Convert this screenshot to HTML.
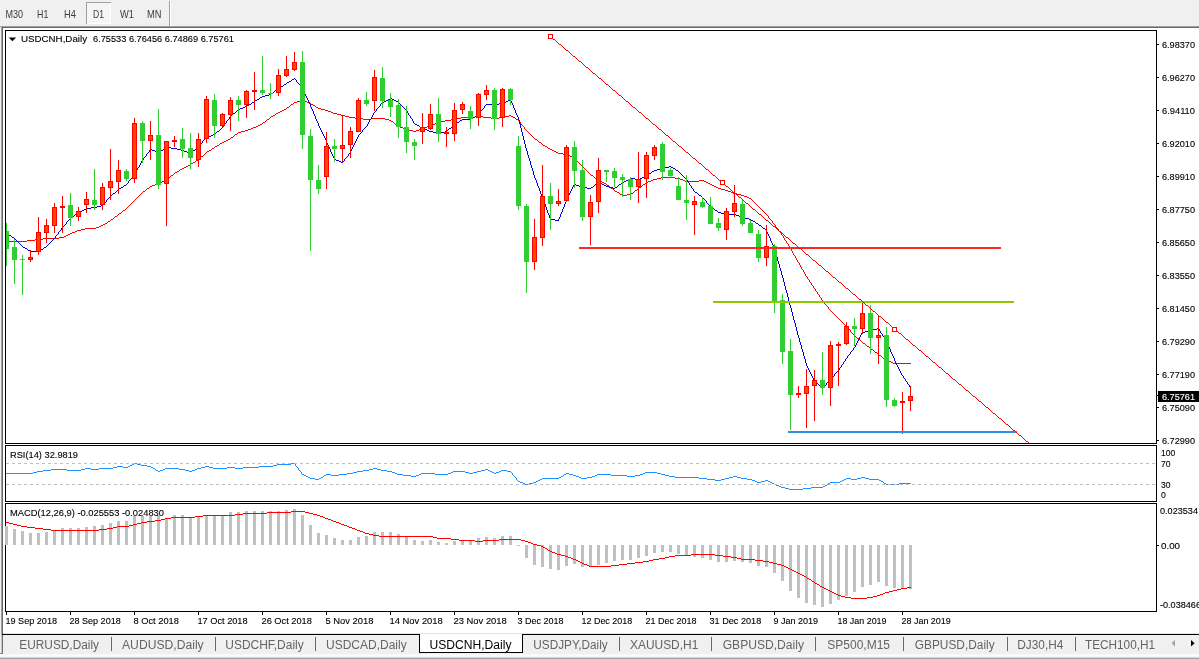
<!DOCTYPE html>
<html lang="en"><head><meta charset="utf-8"><title>USDCNH,Daily</title>
<style>html,body{margin:0;padding:0;background:#f0f0f0;overflow:hidden}svg{display:block}text{font-family:"Liberation Sans",sans-serif;white-space:pre}</style>
</head><body>
<svg width="1199" height="660" viewBox="0 0 1199 660">
<g shape-rendering="crispEdges">
<rect x="0" y="0" width="1199" height="660" fill="#f0f0f0"/>
<rect x="0" y="26" width="1199" height="1" fill="#a0a0a0"/>
<rect x="2" y="27" width="1197" height="1" fill="#696969"/>
<rect x="3" y="28" width="1196" height="606" fill="#ffffff"/>
<rect x="2" y="27" width="1" height="626" fill="#696969"/>
<rect x="1" y="27" width="1" height="627" fill="#a0a0a0"/>
<rect x="86" y="2" width="25" height="22" fill="#f6f6f6"/>
<rect x="86" y="2" width="25" height="1" fill="#a0a0a0"/>
<rect x="86" y="2" width="1" height="22" fill="#a0a0a0"/>
<rect x="87" y="23" width="24" height="1" fill="#ffffff"/>
<rect x="110" y="3" width="1" height="21" fill="#ffffff"/>
<rect x="169" y="1" width="1" height="25" fill="#a0a0a0"/>
<rect x="170" y="1" width="1" height="25" fill="#ffffff"/>
<rect x="5" y="30" width="1152" height="1" fill="#000"/>
<rect x="5" y="443" width="1152" height="1" fill="#000"/>
<rect x="5" y="30" width="1" height="414" fill="#000"/>
<rect x="1156" y="30" width="1" height="414" fill="#000"/>
<rect x="5" y="445" width="1152" height="1" fill="#000"/>
<rect x="5" y="501" width="1152" height="1" fill="#000"/>
<rect x="5" y="445" width="1" height="57" fill="#000"/>
<rect x="1156" y="445" width="1" height="57" fill="#000"/>
<rect x="5" y="503" width="1152" height="1" fill="#000"/>
<rect x="5" y="611" width="1152" height="1" fill="#000"/>
<rect x="5" y="503" width="1" height="109" fill="#000"/>
<rect x="1156" y="503" width="1" height="109" fill="#000"/>
</g>
<g shape-rendering="crispEdges">
<clipPath id="cm"><rect x="6" y="31" width="1150" height="412"/></clipPath>
<g clip-path="url(#cm)">
<path d="M301 100h3v1h-3zM297 101h4v1h-4zM304 101h3v1h-3zM294 102h3v1h-3zM307 102h2v1h-2zM293 103h1v1h-1zM309 103h2v1h-2zM291 104h2v1h-2zM311 104h2v1h-2zM290 105h1v1h-1zM313 105h2v1h-2zM289 106h1v1h-1zM315 106h1v1h-1zM287 107h2v1h-2zM316 107h2v1h-2zM286 108h1v1h-1zM318 108h3v1h-3zM284 109h2v1h-2zM321 109h4v1h-4zM282 110h2v1h-2zM325 110h3v1h-3zM280 111h2v1h-2zM328 111h3v1h-3zM278 112h2v1h-2zM331 112h2v1h-2zM276 113h2v1h-2zM333 113h4v1h-4zM275 114h1v1h-1zM337 114h4v1h-4zM273 115h2v1h-2zM341 115h4v1h-4zM509 115h2v1h-2zM271 116h2v1h-2zM345 116h4v1h-4zM475 116h8v1h-8zM505 116h4v1h-4zM511 116h2v1h-2zM270 117h1v1h-1zM349 117h6v1h-6zM461 117h14v1h-14zM483 117h8v1h-8zM499 117h6v1h-6zM513 117h2v1h-2zM269 118h1v1h-1zM355 118h8v1h-8zM371 118h14v1h-14zM457 118h4v1h-4zM491 118h8v1h-8zM515 118h1v1h-1zM267 119h2v1h-2zM363 119h8v1h-8zM385 119h4v1h-4zM451 119h6v1h-6zM516 119h2v1h-2zM266 120h1v1h-1zM389 120h2v1h-2zM445 120h6v1h-6zM518 120h1v1h-1zM265 121h1v1h-1zM391 121h2v1h-2zM441 121h4v1h-4zM519 121h1v1h-1zM263 122h2v1h-2zM393 122h1v1h-1zM437 122h4v1h-4zM520 122h1v2h-1zM262 123h1v1h-1zM394 123h1v1h-1zM435 123h2v1h-2zM260 124h2v1h-2zM395 124h2v1h-2zM432 124h3v1h-3zM521 124h1v1h-1zM258 125h2v1h-2zM397 125h1v1h-1zM429 125h3v1h-3zM522 125h1v1h-1zM256 126h2v1h-2zM398 126h2v1h-2zM427 126h2v1h-2zM523 126h1v1h-1zM253 127h3v1h-3zM400 127h3v1h-3zM424 127h3v1h-3zM524 127h1v2h-1zM251 128h2v1h-2zM403 128h2v1h-2zM421 128h3v1h-3zM248 129h3v1h-3zM405 129h4v1h-4zM419 129h2v1h-2zM525 129h1v1h-1zM245 130h3v1h-3zM409 130h4v1h-4zM416 130h3v1h-3zM526 130h1v1h-1zM241 131h4v1h-4zM413 131h3v1h-3zM527 131h1v1h-1zM238 132h3v1h-3zM528 132h1v1h-1zM237 133h1v1h-1zM529 133h1v1h-1zM235 134h2v1h-2zM530 134h1v1h-1zM234 135h1v1h-1zM531 135h1v1h-1zM233 136h1v1h-1zM532 136h1v1h-1zM231 137h2v1h-2zM533 137h1v1h-1zM230 138h1v1h-1zM534 138h1v1h-1zM228 139h2v1h-2zM535 139h2v1h-2zM226 140h2v1h-2zM537 140h1v1h-1zM224 141h2v1h-2zM538 141h1v1h-1zM222 142h2v1h-2zM539 142h2v1h-2zM220 143h2v1h-2zM541 143h1v1h-1zM219 144h1v1h-1zM542 144h1v1h-1zM217 145h2v1h-2zM543 145h2v1h-2zM215 146h2v1h-2zM545 146h2v1h-2zM214 147h1v1h-1zM547 147h1v1h-1zM212 148h2v1h-2zM548 148h2v1h-2zM211 149h1v1h-1zM550 149h2v1h-2zM209 150h2v1h-2zM552 150h2v1h-2zM207 151h2v1h-2zM554 151h2v1h-2zM206 152h1v1h-1zM556 152h2v1h-2zM205 153h1v1h-1zM558 153h5v1h-5zM204 154h1v1h-1zM563 154h5v1h-5zM203 155h1v1h-1zM568 155h2v1h-2zM201 156h2v1h-2zM570 156h2v1h-2zM200 157h1v1h-1zM572 157h2v1h-2zM199 158h1v1h-1zM574 158h1v1h-1zM198 159h1v1h-1zM575 159h1v1h-1zM196 160h2v1h-2zM576 160h1v1h-1zM195 161h1v1h-1zM577 161h1v1h-1zM193 162h2v1h-2zM578 162h1v1h-1zM191 163h2v1h-2zM579 163h1v1h-1zM190 164h1v1h-1zM580 164h1v1h-1zM188 165h2v1h-2zM581 165h1v1h-1zM186 166h2v1h-2zM582 166h1v1h-1zM184 167h2v1h-2zM583 167h1v1h-1zM182 168h2v1h-2zM584 168h1v1h-1zM180 169h2v1h-2zM585 169h1v1h-1zM179 170h1v1h-1zM586 170h1v1h-1zM177 171h2v1h-2zM587 171h1v1h-1zM175 172h2v1h-2zM588 172h1v1h-1zM174 173h1v1h-1zM589 173h1v1h-1zM173 174h1v1h-1zM590 174h1v1h-1zM171 175h2v1h-2zM591 175h2v1h-2zM170 176h1v1h-1zM593 176h1v1h-1zM169 177h1v1h-1zM594 177h1v1h-1zM661 177h14v1h-14zM167 178h2v1h-2zM595 178h2v1h-2zM657 178h4v1h-4zM675 178h5v1h-5zM166 179h1v1h-1zM597 179h1v1h-1zM653 179h4v1h-4zM680 179h3v1h-3zM164 180h2v1h-2zM598 180h2v1h-2zM651 180h2v1h-2zM683 180h2v1h-2zM699 180h5v1h-5zM162 181h2v1h-2zM600 181h2v1h-2zM648 181h3v1h-3zM685 181h14v1h-14zM704 181h2v1h-2zM160 182h2v1h-2zM602 182h2v1h-2zM646 182h2v1h-2zM706 182h2v1h-2zM157 183h3v1h-3zM604 183h2v1h-2zM645 183h1v1h-1zM708 183h2v1h-2zM155 184h2v1h-2zM606 184h1v1h-1zM643 184h2v1h-2zM710 184h2v1h-2zM152 185h3v1h-3zM607 185h2v1h-2zM642 185h1v1h-1zM712 185h2v1h-2zM150 186h2v1h-2zM609 186h1v1h-1zM641 186h1v1h-1zM714 186h2v1h-2zM149 187h1v1h-1zM610 187h1v1h-1zM639 187h2v1h-2zM716 187h2v1h-2zM147 188h2v1h-2zM611 188h2v1h-2zM638 188h1v1h-1zM718 188h3v1h-3zM146 189h1v1h-1zM613 189h1v1h-1zM637 189h1v1h-1zM721 189h4v1h-4zM145 190h1v1h-1zM614 190h1v1h-1zM635 190h2v1h-2zM725 190h3v1h-3zM143 191h2v1h-2zM615 191h2v1h-2zM634 191h1v1h-1zM728 191h3v1h-3zM142 192h1v1h-1zM617 192h2v1h-2zM633 192h1v1h-1zM731 192h2v1h-2zM141 193h1v1h-1zM619 193h1v1h-1zM631 193h2v1h-2zM733 193h4v1h-4zM140 194h1v1h-1zM620 194h2v1h-2zM627 194h4v1h-4zM737 194h4v1h-4zM139 195h1v1h-1zM622 195h5v1h-5zM741 195h3v1h-3zM138 196h1v1h-1zM744 196h3v1h-3zM137 197h1v1h-1zM747 197h2v1h-2zM136 198h1v1h-1zM749 198h2v1h-2zM135 199h1v1h-1zM751 199h1v1h-1zM134 200h1v1h-1zM752 200h1v1h-1zM133 201h1v1h-1zM753 201h1v1h-1zM132 202h1v1h-1zM754 202h1v1h-1zM131 203h1v1h-1zM755 203h1v1h-1zM130 204h1v1h-1zM756 204h1v1h-1zM129 205h1v1h-1zM757 205h1v1h-1zM128 206h1v1h-1zM758 206h1v1h-1zM127 207h1v1h-1zM759 207h1v1h-1zM126 208h1v1h-1zM760 208h1v1h-1zM125 209h1v1h-1zM761 209h1v1h-1zM123 210h2v1h-2zM762 210h1v1h-1zM122 211h1v1h-1zM763 211h1v1h-1zM121 212h1v1h-1zM764 212h1v1h-1zM119 213h2v1h-2zM765 213h1v1h-1zM118 214h1v1h-1zM766 214h1v1h-1zM117 215h1v1h-1zM767 215h1v1h-1zM115 216h2v1h-2zM768 216h1v2h-1zM114 217h1v1h-1zM113 218h1v1h-1zM769 218h1v1h-1zM111 219h2v1h-2zM770 219h1v1h-1zM110 220h1v1h-1zM771 220h1v1h-1zM108 221h2v1h-2zM772 221h1v2h-1zM107 222h1v1h-1zM105 223h2v1h-2zM773 223h1v1h-1zM103 224h2v1h-2zM774 224h1v1h-1zM101 225h2v1h-2zM775 225h1v2h-1zM99 226h2v1h-2zM96 227h3v1h-3zM776 227h1v1h-1zM85 228h11v1h-11zM777 228h1v1h-1zM81 229h4v1h-4zM778 229h1v2h-1zM77 230h4v1h-4zM75 231h2v1h-2zM779 231h1v1h-1zM72 232h3v1h-3zM780 232h1v1h-1zM70 233h2v1h-2zM781 233h1v2h-1zM68 234h2v1h-2zM66 235h2v1h-2zM782 235h1v1h-1zM64 236h2v1h-2zM783 236h1v2h-1zM59 237h5v1h-5zM43 238h16v1h-16zM784 238h1v2h-1zM35 239h8v1h-8zM27 240h8v1h-8zM785 240h1v1h-1zM6 241h21v1h-21zM786 241h1v2h-1zM787 243h1v1h-1zM788 244h1v2h-1zM789 246h1v2h-1zM790 248h1v1h-1zM791 249h1v2h-1zM792 251h1v2h-1zM793 253h1v2h-1zM794 255h1v1h-1zM795 256h1v2h-1zM796 258h1v2h-1zM797 260h1v2h-1zM798 262h1v1h-1zM799 263h1v2h-1zM800 265h1v2h-1zM801 267h1v2h-1zM802 269h1v1h-1zM803 270h1v2h-1zM804 272h1v2h-1zM805 274h1v2h-1zM806 276h1v1h-1zM807 277h1v2h-1zM808 279h1v1h-1zM809 280h1v2h-1zM810 282h1v1h-1zM811 283h1v2h-1zM812 285h1v1h-1zM813 286h1v2h-1zM814 288h1v1h-1zM815 289h1v2h-1zM816 291h1v1h-1zM817 292h1v2h-1zM818 294h1v1h-1zM819 295h1v2h-1zM820 297h1v1h-1zM821 298h1v2h-1zM822 300h1v1h-1zM823 301h1v1h-1zM824 302h1v2h-1zM825 304h1v1h-1zM826 305h1v1h-1zM827 306h1v1h-1zM828 307h1v2h-1zM829 309h1v1h-1zM830 310h1v1h-1zM831 311h1v1h-1zM832 312h1v1h-1zM833 313h1v1h-1zM834 314h1v1h-1zM835 315h1v1h-1zM836 316h1v1h-1zM837 317h1v1h-1zM838 318h1v1h-1zM839 319h1v1h-1zM840 320h1v1h-1zM841 321h1v1h-1zM842 322h1v1h-1zM843 323h1v1h-1zM844 324h1v1h-1zM845 325h1v1h-1zM846 326h1v1h-1zM847 327h1v1h-1zM848 328h1v1h-1zM849 329h1v1h-1zM850 330h1v2h-1zM851 332h1v1h-1zM852 333h1v1h-1zM853 334h1v1h-1zM854 335h1v1h-1zM855 336h1v1h-1zM856 337h1v1h-1zM857 338h2v1h-2zM859 339h1v1h-1zM860 340h1v1h-1zM861 341h1v1h-1zM862 342h1v1h-1zM863 343h2v1h-2zM865 344h1v1h-1zM866 345h1v1h-1zM867 346h2v1h-2zM869 347h1v1h-1zM870 348h1v1h-1zM871 349h2v1h-2zM873 350h1v1h-1zM874 351h1v1h-1zM875 352h2v1h-2zM877 353h1v1h-1zM878 354h1v1h-1zM879 355h2v1h-2zM881 356h1v1h-1zM882 357h1v1h-1zM883 358h2v1h-2zM885 359h1v1h-1zM886 360h2v1h-2zM888 361h3v1h-3zM891 362h2v1h-2zM893 363h18v1h-18z" fill="#ff0000"/>
<path d="M294 78h1v1h-1zM292 79h2v1h-2zM295 79h1v1h-1zM291 80h1v1h-1zM296 80h1v2h-1zM289 81h2v1h-2zM287 82h2v1h-2zM297 82h1v1h-1zM286 83h1v1h-1zM298 83h1v1h-1zM284 84h2v1h-2zM299 84h1v1h-1zM283 85h1v1h-1zM300 85h1v2h-1zM281 86h2v1h-2zM279 87h2v1h-2zM301 87h1v1h-1zM278 88h1v1h-1zM302 88h1v2h-1zM277 89h1v1h-1zM275 90h2v1h-2zM303 90h1v2h-1zM274 91h1v1h-1zM273 92h1v1h-1zM304 92h1v2h-1zM271 93h2v1h-2zM269 94h2v1h-2zM305 94h1v2h-1zM265 95h4v1h-4zM262 96h3v1h-3zM306 96h1v2h-1zM260 97h2v1h-2zM259 98h1v1h-1zM390 98h2v1h-2zM307 98h1v2h-1zM257 99h2v1h-2zM388 99h2v1h-2zM392 99h2v1h-2zM510 99h1v2h-1zM255 100h2v1h-2zM386 100h2v1h-2zM394 100h2v1h-2zM508 100h2v1h-2zM308 100h1v2h-1zM254 101h1v1h-1zM384 101h2v1h-2zM396 101h2v1h-2zM506 101h2v1h-2zM511 101h1v2h-1zM252 102h2v1h-2zM382 102h2v1h-2zM398 102h1v1h-1zM504 102h2v1h-2zM309 102h1v2h-1zM251 103h1v1h-1zM381 103h1v1h-1zM399 103h1v1h-1zM499 103h5v1h-5zM512 103h1v2h-1zM249 104h2v1h-2zM400 104h1v1h-1zM486 104h13v1h-13zM380 104h1v2h-1zM310 104h1v3h-1zM247 105h2v1h-2zM401 105h1v1h-1zM485 105h1v1h-1zM513 105h1v3h-1zM245 106h2v1h-2zM379 106h1v1h-1zM402 106h1v1h-1zM484 106h1v2h-1zM243 107h2v1h-2zM378 107h1v1h-1zM403 107h1v1h-1zM311 107h1v2h-1zM240 108h3v1h-3zM377 108h1v1h-1zM404 108h1v1h-1zM483 108h1v1h-1zM514 108h1v2h-1zM238 109h2v1h-2zM405 109h1v1h-1zM482 109h1v1h-1zM312 109h1v2h-1zM376 109h1v2h-1zM237 110h1v1h-1zM406 110h1v1h-1zM481 110h1v1h-1zM515 110h1v3h-1zM236 111h1v1h-1zM375 111h1v1h-1zM407 111h1v2h-1zM480 111h1v2h-1zM313 111h1v3h-1zM235 112h1v1h-1zM374 112h1v1h-1zM233 113h2v1h-2zM479 113h1v1h-1zM373 113h1v2h-1zM408 113h1v2h-1zM516 113h1v2h-1zM232 114h1v1h-1zM478 114h1v1h-1zM314 114h1v2h-1zM231 115h1v1h-1zM409 115h1v1h-1zM476 115h2v1h-2zM372 115h1v2h-1zM517 115h1v2h-1zM230 116h1v1h-1zM475 116h1v1h-1zM410 116h1v2h-1zM315 116h1v3h-1zM473 117h2v1h-2zM229 117h1v2h-1zM371 117h1v2h-1zM518 117h1v3h-1zM411 118h1v1h-1zM471 118h2v1h-2zM228 119h1v1h-1zM370 119h1v1h-1zM462 119h9v1h-9zM316 119h1v2h-1zM412 119h1v2h-1zM227 120h1v1h-1zM460 120h2v1h-2zM369 120h1v2h-1zM519 120h1v4h-1zM459 121h1v1h-1zM226 121h1v2h-1zM317 121h1v2h-1zM413 121h1v2h-1zM457 122h2v1h-2zM368 122h1v2h-1zM225 123h1v1h-1zM414 123h1v1h-1zM455 123h2v1h-2zM318 123h1v3h-1zM224 124h1v1h-1zM415 124h2v1h-2zM454 124h1v1h-1zM367 124h1v2h-1zM520 124h1v4h-1zM417 125h2v1h-2zM453 125h1v1h-1zM223 125h1v2h-1zM366 126h1v1h-1zM419 126h1v1h-1zM452 126h1v1h-1zM319 126h1v2h-1zM222 127h1v1h-1zM365 127h1v1h-1zM420 127h2v1h-2zM451 127h1v1h-1zM221 128h1v1h-1zM364 128h1v1h-1zM422 128h2v1h-2zM449 128h2v1h-2zM320 128h1v2h-1zM521 128h1v4h-1zM220 129h1v1h-1zM363 129h1v1h-1zM424 129h3v1h-3zM448 129h1v1h-1zM219 130h1v1h-1zM427 130h2v1h-2zM447 130h1v1h-1zM321 130h1v2h-1zM362 130h1v2h-1zM217 131h2v1h-2zM429 131h4v1h-4zM445 131h2v1h-2zM216 132h1v1h-1zM361 132h1v1h-1zM433 132h4v1h-4zM441 132h4v1h-4zM322 132h1v2h-1zM522 132h1v4h-1zM215 133h1v1h-1zM360 133h1v1h-1zM437 133h4v1h-4zM213 134h2v1h-2zM359 134h1v1h-1zM323 134h1v2h-1zM211 135h2v1h-2zM358 135h1v2h-1zM208 136h3v1h-3zM324 136h1v2h-1zM523 136h1v4h-1zM206 137h2v1h-2zM357 137h1v2h-1zM205 138h1v1h-1zM325 138h1v2h-1zM204 139h1v1h-1zM356 139h1v2h-1zM203 140h1v1h-1zM326 140h1v3h-1zM524 140h1v4h-1zM202 141h1v2h-1zM355 141h1v2h-1zM201 143h1v1h-1zM327 143h1v2h-1zM354 143h1v2h-1zM200 144h1v1h-1zM525 144h1v4h-1zM199 145h1v1h-1zM328 145h1v2h-1zM353 145h1v2h-1zM198 146h1v1h-1zM166 147h5v1h-5zM197 147h1v1h-1zM329 147h1v2h-1zM352 147h1v2h-1zM164 148h2v1h-2zM171 148h6v1h-6zM196 148h1v1h-1zM526 148h1v3h-1zM150 149h2v1h-2zM163 149h1v1h-1zM177 149h4v1h-4zM195 149h1v1h-1zM351 149h1v2h-1zM330 149h1v3h-1zM152 150h3v1h-3zM161 150h2v1h-2zM181 150h3v1h-3zM193 150h2v1h-2zM149 150h1v2h-1zM155 151h2v1h-2zM159 151h2v1h-2zM184 151h3v1h-3zM192 151h1v1h-1zM350 151h1v2h-1zM527 151h1v4h-1zM148 152h1v1h-1zM157 152h2v1h-2zM187 152h2v1h-2zM191 152h1v1h-1zM331 152h1v2h-1zM147 153h1v1h-1zM189 153h2v1h-2zM349 153h1v1h-1zM146 154h1v2h-1zM332 154h1v2h-1zM348 154h1v2h-1zM528 155h1v3h-1zM145 156h1v1h-1zM347 156h1v1h-1zM333 156h1v2h-1zM144 157h1v1h-1zM346 157h1v1h-1zM345 158h1v1h-1zM143 158h1v2h-1zM334 158h1v2h-1zM529 158h1v3h-1zM335 159h1v1h-1zM344 159h1v2h-1zM142 160h1v1h-1zM336 160h3v1h-3zM339 161h2v1h-2zM343 161h1v1h-1zM141 161h1v2h-1zM530 161h1v4h-1zM341 162h2v1h-2zM140 163h1v2h-1zM139 165h1v2h-1zM531 165h1v3h-1zM669 166h2v1h-2zM138 167h1v1h-1zM665 167h4v1h-4zM671 167h2v1h-2zM661 168h4v1h-4zM673 168h2v1h-2zM137 168h1v2h-1zM532 168h1v3h-1zM657 169h4v1h-4zM675 169h1v1h-1zM654 170h3v1h-3zM676 170h2v1h-2zM136 170h1v2h-1zM652 171h2v1h-2zM678 171h1v1h-1zM533 171h1v4h-1zM651 172h1v1h-1zM679 172h1v1h-1zM135 172h1v2h-1zM649 173h2v1h-2zM680 173h1v1h-1zM134 174h1v1h-1zM647 174h2v1h-2zM681 174h1v1h-1zM133 175h1v1h-1zM646 175h1v1h-1zM682 175h1v1h-1zM534 175h1v3h-1zM644 176h2v1h-2zM683 176h1v1h-1zM132 176h1v2h-1zM642 177h2v1h-2zM684 177h1v1h-1zM131 178h1v1h-1zM630 178h5v1h-5zM640 178h2v1h-2zM685 178h1v1h-1zM535 178h1v2h-1zM130 179h1v1h-1zM628 179h2v1h-2zM635 179h5v1h-5zM686 179h1v1h-1zM129 180h1v1h-1zM626 180h2v1h-2zM687 180h1v2h-1zM536 180h1v3h-1zM624 181h2v1h-2zM128 181h1v2h-1zM598 182h2v1h-2zM622 182h2v1h-2zM688 182h1v1h-1zM127 183h1v1h-1zM597 183h1v1h-1zM600 183h2v1h-2zM621 183h1v1h-1zM689 183h1v2h-1zM537 183h1v3h-1zM126 184h1v1h-1zM574 184h2v1h-2zM595 184h2v1h-2zM602 184h2v1h-2zM619 184h2v1h-2zM124 185h2v1h-2zM576 185h3v1h-3zM594 185h1v1h-1zM604 185h2v1h-2zM618 185h1v1h-1zM690 185h1v1h-1zM573 185h1v2h-1zM123 186h1v1h-1zM579 186h2v1h-2zM593 186h1v1h-1zM606 186h3v1h-3zM617 186h1v1h-1zM538 186h1v2h-1zM691 186h1v2h-1zM121 187h2v1h-2zM581 187h6v1h-6zM591 187h2v1h-2zM609 187h4v1h-4zM615 187h2v1h-2zM572 187h1v2h-1zM119 188h2v1h-2zM587 188h4v1h-4zM613 188h2v1h-2zM692 188h1v1h-1zM539 188h1v3h-1zM118 189h1v1h-1zM571 189h1v2h-1zM693 189h1v2h-1zM117 190h1v1h-1zM116 191h1v1h-1zM694 191h1v1h-1zM570 191h1v2h-1zM540 191h1v3h-1zM115 192h1v1h-1zM695 192h2v1h-2zM113 193h2v1h-2zM697 193h1v1h-1zM569 193h1v2h-1zM112 194h1v1h-1zM698 194h1v1h-1zM541 194h1v2h-1zM111 195h1v1h-1zM699 195h2v1h-2zM568 195h1v2h-1zM110 196h1v1h-1zM701 196h1v1h-1zM542 196h1v3h-1zM109 197h1v1h-1zM702 197h1v1h-1zM567 197h1v2h-1zM108 198h1v1h-1zM703 198h1v1h-1zM107 199h1v1h-1zM704 199h1v1h-1zM543 199h1v3h-1zM566 199h1v3h-1zM705 200h1v1h-1zM106 200h1v2h-1zM706 201h1v2h-1zM105 202h1v1h-1zM544 202h1v2h-1zM565 202h1v2h-1zM104 203h1v1h-1zM707 203h1v1h-1zM103 204h1v1h-1zM708 204h1v1h-1zM545 204h1v3h-1zM564 204h1v3h-1zM101 205h2v1h-2zM709 205h1v1h-1zM97 206h4v1h-4zM710 206h1v1h-1zM91 207h6v1h-6zM711 207h2v1h-2zM563 207h1v2h-1zM546 207h1v3h-1zM86 208h5v1h-5zM713 208h1v1h-1zM84 209h2v1h-2zM714 209h1v1h-1zM562 209h1v3h-1zM82 210h2v1h-2zM715 210h2v1h-2zM547 210h1v3h-1zM80 211h2v1h-2zM717 211h1v1h-1zM78 212h2v1h-2zM718 212h3v1h-3zM561 212h1v2h-1zM77 213h1v1h-1zM721 213h4v1h-4zM548 213h1v2h-1zM75 214h2v1h-2zM725 214h11v1h-11zM560 214h1v3h-1zM74 215h1v1h-1zM736 215h3v1h-3zM549 215h1v3h-1zM73 216h1v1h-1zM739 216h2v1h-2zM71 217h2v1h-2zM741 217h4v1h-4zM559 217h1v2h-1zM70 218h1v1h-1zM745 218h4v1h-4zM550 218h1v2h-1zM69 219h1v1h-1zM551 219h4v1h-4zM749 219h2v1h-2zM558 219h1v2h-1zM68 220h1v1h-1zM555 220h3v1h-3zM751 220h2v1h-2zM67 221h1v1h-1zM753 221h2v1h-2zM755 222h1v1h-1zM66 222h1v2h-1zM756 223h2v1h-2zM65 224h1v1h-1zM758 224h1v1h-1zM64 225h1v1h-1zM759 225h2v1h-2zM63 226h1v1h-1zM761 226h1v1h-1zM62 227h1v1h-1zM762 227h1v1h-1zM763 228h2v1h-2zM61 228h1v2h-1zM765 229h1v1h-1zM60 230h1v1h-1zM766 230h1v2h-1zM59 231h1v1h-1zM58 232h1v2h-1zM767 232h1v2h-1zM6 233h1v1h-1zM7 234h2v1h-2zM57 234h1v1h-1zM768 234h1v2h-1zM9 235h2v1h-2zM56 235h1v1h-1zM11 236h1v1h-1zM55 236h1v2h-1zM769 236h1v2h-1zM12 237h2v1h-2zM14 238h1v1h-1zM54 238h1v1h-1zM770 238h1v3h-1zM15 239h1v1h-1zM53 239h1v1h-1zM16 240h1v1h-1zM52 240h1v1h-1zM17 241h1v1h-1zM51 241h1v1h-1zM771 241h1v2h-1zM18 242h1v1h-1zM50 242h1v1h-1zM19 243h1v1h-1zM49 243h1v1h-1zM772 243h1v2h-1zM20 244h1v1h-1zM48 244h1v1h-1zM21 245h1v1h-1zM47 245h1v1h-1zM773 245h1v2h-1zM22 246h1v1h-1zM46 246h1v1h-1zM23 247h2v1h-2zM44 247h2v1h-2zM774 247h1v3h-1zM25 248h2v1h-2zM43 248h1v1h-1zM27 249h1v1h-1zM41 249h2v1h-2zM28 250h2v1h-2zM39 250h2v1h-2zM775 250h1v4h-1zM30 251h9v1h-9zM776 254h1v3h-1zM777 257h1v4h-1zM778 261h1v3h-1zM779 264h1v4h-1zM780 268h1v3h-1zM781 271h1v4h-1zM782 275h1v3h-1zM783 278h1v4h-1zM784 282h1v4h-1zM785 286h1v4h-1zM786 290h1v3h-1zM787 293h1v4h-1zM788 297h1v4h-1zM789 301h1v4h-1zM790 305h1v3h-1zM791 308h1v4h-1zM792 312h1v4h-1zM793 316h1v4h-1zM794 320h1v3h-1zM795 323h1v4h-1zM796 327h1v4h-1zM877 328h2v1h-2zM873 329h4v1h-4zM879 329h1v2h-1zM869 330h4v1h-4zM865 331h4v1h-4zM880 331h1v2h-1zM797 331h1v4h-1zM862 332h3v1h-3zM881 333h1v1h-1zM861 333h1v2h-1zM882 334h1v2h-1zM860 335h1v2h-1zM798 335h1v3h-1zM883 336h1v1h-1zM859 337h1v2h-1zM884 337h1v2h-1zM799 338h1v4h-1zM858 339h1v2h-1zM885 339h1v2h-1zM857 341h1v2h-1zM886 341h1v2h-1zM800 342h1v3h-1zM856 343h1v2h-1zM887 343h1v2h-1zM855 345h1v2h-1zM888 345h1v2h-1zM801 345h1v4h-1zM854 347h1v1h-1zM889 347h1v2h-1zM853 348h1v2h-1zM802 349h1v3h-1zM890 349h1v3h-1zM852 350h1v1h-1zM851 351h1v1h-1zM850 352h1v2h-1zM891 352h1v2h-1zM803 352h1v4h-1zM849 354h1v1h-1zM892 354h1v2h-1zM848 355h1v1h-1zM847 356h1v2h-1zM893 356h1v2h-1zM804 356h1v3h-1zM846 358h1v1h-1zM894 358h1v3h-1zM845 359h1v2h-1zM805 359h1v4h-1zM844 361h1v1h-1zM895 361h1v2h-1zM843 362h1v2h-1zM896 363h1v2h-1zM806 363h1v3h-1zM842 364h1v1h-1zM841 365h1v2h-1zM897 365h1v2h-1zM807 366h1v2h-1zM840 367h1v1h-1zM898 367h1v2h-1zM808 368h1v2h-1zM839 368h1v2h-1zM899 369h1v2h-1zM838 370h1v1h-1zM809 370h1v2h-1zM837 371h1v1h-1zM900 371h1v2h-1zM836 372h1v1h-1zM810 372h1v2h-1zM835 373h1v1h-1zM901 373h1v2h-1zM811 374h1v2h-1zM834 374h1v2h-1zM902 375h1v1h-1zM833 376h1v1h-1zM812 376h1v2h-1zM903 376h1v2h-1zM832 377h1v1h-1zM831 378h1v1h-1zM904 378h1v1h-1zM813 378h1v2h-1zM830 379h1v1h-1zM905 379h1v2h-1zM814 380h1v1h-1zM829 380h1v1h-1zM815 381h1v1h-1zM828 381h1v1h-1zM906 381h1v1h-1zM816 382h1v1h-1zM827 382h1v1h-1zM907 382h1v2h-1zM817 383h1v1h-1zM826 383h1v2h-1zM818 384h1v1h-1zM908 384h1v1h-1zM819 385h1v1h-1zM825 385h1v1h-1zM909 385h1v2h-1zM820 386h1v1h-1zM824 386h1v1h-1zM821 387h1v1h-1zM823 387h1v1h-1zM910 387h1v1h-1zM822 388h1v1h-1z" fill="#0000dd"/>
<rect x="6" y="223" width="1" height="43" fill="#32cd32"/>
<rect x="4" y="231" width="5" height="18" fill="#32cd32"/>
<rect x="14" y="239" width="1" height="45" fill="#32cd32"/>
<rect x="12" y="247" width="5" height="13" fill="#32cd32"/>
<rect x="22" y="255" width="1" height="40" fill="#32cd32"/>
<rect x="20" y="259" width="5" height="1" fill="#32cd32"/>
<rect x="30" y="250" width="1" height="12" fill="#ff0000"/>
<rect x="28" y="257" width="5" height="3" fill="#ff0000"/>
<rect x="29" y="258" width="3" height="1" fill="#ff4500"/>
<rect x="38" y="217" width="1" height="38" fill="#ff0000"/>
<rect x="36" y="232" width="5" height="20" fill="#ff0000"/>
<rect x="37" y="233" width="3" height="18" fill="#ff4500"/>
<rect x="46" y="219" width="1" height="24" fill="#ff0000"/>
<rect x="44" y="225" width="5" height="8" fill="#ff0000"/>
<rect x="45" y="226" width="3" height="6" fill="#ff4500"/>
<rect x="54" y="203" width="1" height="30" fill="#ff0000"/>
<rect x="52" y="207" width="5" height="19" fill="#ff0000"/>
<rect x="53" y="208" width="3" height="17" fill="#ff4500"/>
<rect x="62" y="196" width="1" height="37" fill="#ff0000"/>
<rect x="60" y="206" width="5" height="2" fill="#ff0000"/>
<rect x="70" y="193" width="1" height="33" fill="#32cd32"/>
<rect x="68" y="205" width="5" height="13" fill="#32cd32"/>
<rect x="78" y="207" width="1" height="14" fill="#ff0000"/>
<rect x="76" y="211" width="5" height="6" fill="#ff0000"/>
<rect x="77" y="212" width="3" height="4" fill="#ff4500"/>
<rect x="86" y="192" width="1" height="21" fill="#ff0000"/>
<rect x="84" y="199" width="5" height="6" fill="#ff0000"/>
<rect x="85" y="200" width="3" height="4" fill="#ff4500"/>
<rect x="94" y="169" width="1" height="41" fill="#32cd32"/>
<rect x="92" y="200" width="5" height="5" fill="#32cd32"/>
<rect x="102" y="183" width="1" height="27" fill="#ff0000"/>
<rect x="100" y="187" width="5" height="18" fill="#ff0000"/>
<rect x="101" y="188" width="3" height="16" fill="#ff4500"/>
<rect x="110" y="149" width="1" height="51" fill="#ff0000"/>
<rect x="108" y="181" width="5" height="7" fill="#ff0000"/>
<rect x="109" y="182" width="3" height="5" fill="#ff4500"/>
<rect x="118" y="160" width="1" height="34" fill="#ff0000"/>
<rect x="116" y="170" width="5" height="12" fill="#ff0000"/>
<rect x="117" y="171" width="3" height="10" fill="#ff4500"/>
<rect x="126" y="169" width="1" height="12" fill="#32cd32"/>
<rect x="124" y="171" width="5" height="8" fill="#32cd32"/>
<rect x="134" y="118" width="1" height="65" fill="#ff0000"/>
<rect x="132" y="123" width="5" height="56" fill="#ff0000"/>
<rect x="133" y="124" width="3" height="54" fill="#ff4500"/>
<rect x="142" y="121" width="1" height="42" fill="#32cd32"/>
<rect x="140" y="123" width="5" height="18" fill="#32cd32"/>
<rect x="150" y="121" width="1" height="39" fill="#ff0000"/>
<rect x="148" y="135" width="5" height="6" fill="#ff0000"/>
<rect x="149" y="136" width="3" height="4" fill="#ff4500"/>
<rect x="158" y="109" width="1" height="80" fill="#32cd32"/>
<rect x="156" y="135" width="5" height="50" fill="#32cd32"/>
<rect x="166" y="141" width="1" height="85" fill="#ff0000"/>
<rect x="164" y="141" width="5" height="43" fill="#ff0000"/>
<rect x="165" y="142" width="3" height="41" fill="#ff4500"/>
<rect x="174" y="136" width="1" height="11" fill="#ff0000"/>
<rect x="172" y="140" width="5" height="2" fill="#ff0000"/>
<rect x="182" y="128" width="1" height="30" fill="#32cd32"/>
<rect x="180" y="139" width="5" height="10" fill="#32cd32"/>
<rect x="190" y="133" width="1" height="36" fill="#32cd32"/>
<rect x="188" y="148" width="5" height="10" fill="#32cd32"/>
<rect x="198" y="133" width="1" height="34" fill="#ff0000"/>
<rect x="196" y="139" width="5" height="21" fill="#ff0000"/>
<rect x="197" y="140" width="3" height="19" fill="#ff4500"/>
<rect x="206" y="96" width="1" height="47" fill="#ff0000"/>
<rect x="204" y="99" width="5" height="40" fill="#ff0000"/>
<rect x="205" y="100" width="3" height="38" fill="#ff4500"/>
<rect x="214" y="94" width="1" height="44" fill="#32cd32"/>
<rect x="212" y="100" width="5" height="26" fill="#32cd32"/>
<rect x="222" y="113" width="1" height="14" fill="#ff0000"/>
<rect x="220" y="114" width="5" height="12" fill="#ff0000"/>
<rect x="221" y="115" width="3" height="10" fill="#ff4500"/>
<rect x="230" y="97" width="1" height="34" fill="#ff0000"/>
<rect x="228" y="100" width="5" height="15" fill="#ff0000"/>
<rect x="229" y="101" width="3" height="13" fill="#ff4500"/>
<rect x="238" y="96" width="1" height="25" fill="#32cd32"/>
<rect x="236" y="100" width="5" height="5" fill="#32cd32"/>
<rect x="246" y="90" width="1" height="28" fill="#ff0000"/>
<rect x="244" y="91" width="5" height="14" fill="#ff0000"/>
<rect x="245" y="92" width="3" height="12" fill="#ff4500"/>
<rect x="254" y="72" width="1" height="38" fill="#ff0000"/>
<rect x="252" y="90" width="5" height="2" fill="#ff0000"/>
<rect x="262" y="56" width="1" height="39" fill="#32cd32"/>
<rect x="260" y="90" width="5" height="3" fill="#32cd32"/>
<rect x="270" y="83" width="1" height="16" fill="#32cd32"/>
<rect x="268" y="93" width="5" height="1" fill="#32cd32"/>
<rect x="278" y="69" width="1" height="27" fill="#ff0000"/>
<rect x="276" y="75" width="5" height="18" fill="#ff0000"/>
<rect x="277" y="76" width="3" height="16" fill="#ff4500"/>
<rect x="286" y="56" width="1" height="21" fill="#ff0000"/>
<rect x="284" y="69" width="5" height="7" fill="#ff0000"/>
<rect x="285" y="70" width="3" height="5" fill="#ff4500"/>
<rect x="294" y="52" width="1" height="19" fill="#ff0000"/>
<rect x="292" y="62" width="5" height="8" fill="#ff0000"/>
<rect x="293" y="63" width="3" height="6" fill="#ff4500"/>
<rect x="302" y="51" width="1" height="98" fill="#32cd32"/>
<rect x="300" y="62" width="5" height="73" fill="#32cd32"/>
<rect x="310" y="129" width="1" height="122" fill="#32cd32"/>
<rect x="308" y="136" width="5" height="44" fill="#32cd32"/>
<rect x="318" y="165" width="1" height="29" fill="#32cd32"/>
<rect x="316" y="180" width="5" height="9" fill="#32cd32"/>
<rect x="326" y="132" width="1" height="57" fill="#ff0000"/>
<rect x="324" y="146" width="5" height="31" fill="#ff0000"/>
<rect x="325" y="147" width="3" height="29" fill="#ff4500"/>
<rect x="334" y="139" width="1" height="23" fill="#32cd32"/>
<rect x="332" y="146" width="5" height="3" fill="#32cd32"/>
<rect x="342" y="115" width="1" height="47" fill="#ff0000"/>
<rect x="340" y="145" width="5" height="4" fill="#ff0000"/>
<rect x="341" y="146" width="3" height="2" fill="#ff4500"/>
<rect x="350" y="127" width="1" height="31" fill="#ff0000"/>
<rect x="348" y="131" width="5" height="14" fill="#ff0000"/>
<rect x="349" y="132" width="3" height="12" fill="#ff4500"/>
<rect x="358" y="98" width="1" height="34" fill="#ff0000"/>
<rect x="356" y="100" width="5" height="32" fill="#ff0000"/>
<rect x="357" y="101" width="3" height="30" fill="#ff4500"/>
<rect x="366" y="92" width="1" height="14" fill="#32cd32"/>
<rect x="364" y="100" width="5" height="4" fill="#32cd32"/>
<rect x="374" y="70" width="1" height="41" fill="#ff0000"/>
<rect x="372" y="77" width="5" height="24" fill="#ff0000"/>
<rect x="373" y="78" width="3" height="22" fill="#ff4500"/>
<rect x="382" y="67" width="1" height="41" fill="#32cd32"/>
<rect x="380" y="78" width="5" height="23" fill="#32cd32"/>
<rect x="390" y="93" width="1" height="24" fill="#32cd32"/>
<rect x="388" y="100" width="5" height="7" fill="#32cd32"/>
<rect x="398" y="99" width="1" height="39" fill="#32cd32"/>
<rect x="396" y="105" width="5" height="22" fill="#32cd32"/>
<rect x="406" y="106" width="1" height="47" fill="#32cd32"/>
<rect x="404" y="127" width="5" height="15" fill="#32cd32"/>
<rect x="414" y="139" width="1" height="21" fill="#32cd32"/>
<rect x="412" y="142" width="5" height="4" fill="#32cd32"/>
<rect x="422" y="113" width="1" height="31" fill="#ff0000"/>
<rect x="420" y="127" width="5" height="5" fill="#ff0000"/>
<rect x="421" y="128" width="3" height="3" fill="#ff4500"/>
<rect x="430" y="104" width="1" height="26" fill="#ff0000"/>
<rect x="428" y="114" width="5" height="15" fill="#ff0000"/>
<rect x="429" y="115" width="3" height="13" fill="#ff4500"/>
<rect x="438" y="98" width="1" height="44" fill="#32cd32"/>
<rect x="436" y="114" width="5" height="20" fill="#32cd32"/>
<rect x="446" y="127" width="1" height="20" fill="#ff0000"/>
<rect x="444" y="132" width="5" height="2" fill="#ff0000"/>
<rect x="454" y="103" width="1" height="38" fill="#ff0000"/>
<rect x="452" y="110" width="5" height="24" fill="#ff0000"/>
<rect x="453" y="111" width="3" height="22" fill="#ff4500"/>
<rect x="462" y="102" width="1" height="12" fill="#ff0000"/>
<rect x="460" y="104" width="5" height="6" fill="#ff0000"/>
<rect x="461" y="105" width="3" height="4" fill="#ff4500"/>
<rect x="470" y="106" width="1" height="23" fill="#32cd32"/>
<rect x="468" y="111" width="5" height="8" fill="#32cd32"/>
<rect x="478" y="93" width="1" height="33" fill="#ff0000"/>
<rect x="476" y="94" width="5" height="24" fill="#ff0000"/>
<rect x="477" y="95" width="3" height="22" fill="#ff4500"/>
<rect x="486" y="85" width="1" height="15" fill="#ff0000"/>
<rect x="484" y="90" width="5" height="5" fill="#ff0000"/>
<rect x="485" y="91" width="3" height="3" fill="#ff4500"/>
<rect x="494" y="88" width="1" height="42" fill="#32cd32"/>
<rect x="492" y="90" width="5" height="29" fill="#32cd32"/>
<rect x="502" y="88" width="1" height="39" fill="#ff0000"/>
<rect x="500" y="89" width="5" height="29" fill="#ff0000"/>
<rect x="501" y="90" width="3" height="27" fill="#ff4500"/>
<rect x="510" y="88" width="1" height="17" fill="#32cd32"/>
<rect x="508" y="89" width="5" height="11" fill="#32cd32"/>
<rect x="518" y="136" width="1" height="74" fill="#32cd32"/>
<rect x="516" y="146" width="5" height="60" fill="#32cd32"/>
<rect x="526" y="204" width="1" height="89" fill="#32cd32"/>
<rect x="524" y="206" width="5" height="56" fill="#32cd32"/>
<rect x="534" y="219" width="1" height="51" fill="#ff0000"/>
<rect x="532" y="237" width="5" height="25" fill="#ff0000"/>
<rect x="533" y="238" width="3" height="23" fill="#ff4500"/>
<rect x="542" y="165" width="1" height="81" fill="#ff0000"/>
<rect x="540" y="196" width="5" height="42" fill="#ff0000"/>
<rect x="541" y="197" width="3" height="40" fill="#ff4500"/>
<rect x="550" y="183" width="1" height="47" fill="#32cd32"/>
<rect x="548" y="196" width="5" height="8" fill="#32cd32"/>
<rect x="558" y="189" width="1" height="17" fill="#ff0000"/>
<rect x="556" y="201" width="5" height="3" fill="#ff0000"/>
<rect x="557" y="202" width="3" height="1" fill="#ff4500"/>
<rect x="566" y="145" width="1" height="57" fill="#ff0000"/>
<rect x="564" y="147" width="5" height="54" fill="#ff0000"/>
<rect x="565" y="148" width="3" height="52" fill="#ff4500"/>
<rect x="574" y="141" width="1" height="47" fill="#32cd32"/>
<rect x="572" y="147" width="5" height="24" fill="#32cd32"/>
<rect x="582" y="160" width="1" height="61" fill="#32cd32"/>
<rect x="580" y="170" width="5" height="47" fill="#32cd32"/>
<rect x="590" y="195" width="1" height="50" fill="#ff0000"/>
<rect x="588" y="202" width="5" height="15" fill="#ff0000"/>
<rect x="589" y="203" width="3" height="13" fill="#ff4500"/>
<rect x="598" y="158" width="1" height="55" fill="#ff0000"/>
<rect x="596" y="170" width="5" height="32" fill="#ff0000"/>
<rect x="597" y="171" width="3" height="30" fill="#ff4500"/>
<rect x="606" y="170" width="1" height="12" fill="#32cd32"/>
<rect x="604" y="170" width="5" height="2" fill="#32cd32"/>
<rect x="614" y="168" width="1" height="19" fill="#32cd32"/>
<rect x="612" y="171" width="5" height="7" fill="#32cd32"/>
<rect x="622" y="174" width="1" height="23" fill="#32cd32"/>
<rect x="620" y="177" width="5" height="3" fill="#32cd32"/>
<rect x="630" y="177" width="1" height="23" fill="#32cd32"/>
<rect x="628" y="179" width="5" height="8" fill="#32cd32"/>
<rect x="638" y="152" width="1" height="51" fill="#ff0000"/>
<rect x="636" y="179" width="5" height="8" fill="#ff0000"/>
<rect x="637" y="180" width="3" height="6" fill="#ff4500"/>
<rect x="646" y="152" width="1" height="46" fill="#ff0000"/>
<rect x="644" y="155" width="5" height="24" fill="#ff0000"/>
<rect x="645" y="156" width="3" height="22" fill="#ff4500"/>
<rect x="654" y="145" width="1" height="15" fill="#ff0000"/>
<rect x="652" y="147" width="5" height="9" fill="#ff0000"/>
<rect x="653" y="148" width="3" height="7" fill="#ff4500"/>
<rect x="662" y="142" width="1" height="38" fill="#32cd32"/>
<rect x="660" y="144" width="5" height="28" fill="#32cd32"/>
<rect x="670" y="168" width="1" height="10" fill="#32cd32"/>
<rect x="668" y="170" width="5" height="6" fill="#32cd32"/>
<rect x="678" y="177" width="1" height="23" fill="#32cd32"/>
<rect x="676" y="186" width="5" height="14" fill="#32cd32"/>
<rect x="686" y="175" width="1" height="45" fill="#32cd32"/>
<rect x="684" y="200" width="5" height="3" fill="#32cd32"/>
<rect x="694" y="196" width="1" height="39" fill="#ff0000"/>
<rect x="692" y="201" width="5" height="4" fill="#ff0000"/>
<rect x="693" y="202" width="3" height="2" fill="#ff4500"/>
<rect x="702" y="197" width="1" height="11" fill="#32cd32"/>
<rect x="700" y="202" width="5" height="5" fill="#32cd32"/>
<rect x="710" y="197" width="1" height="27" fill="#32cd32"/>
<rect x="708" y="206" width="5" height="18" fill="#32cd32"/>
<rect x="718" y="218" width="1" height="13" fill="#32cd32"/>
<rect x="716" y="223" width="5" height="5" fill="#32cd32"/>
<rect x="726" y="208" width="1" height="32" fill="#ff0000"/>
<rect x="724" y="211" width="5" height="19" fill="#ff0000"/>
<rect x="725" y="212" width="3" height="17" fill="#ff4500"/>
<rect x="734" y="185" width="1" height="32" fill="#ff0000"/>
<rect x="732" y="203" width="5" height="9" fill="#ff0000"/>
<rect x="733" y="204" width="3" height="7" fill="#ff4500"/>
<rect x="742" y="200" width="1" height="26" fill="#32cd32"/>
<rect x="740" y="204" width="5" height="20" fill="#32cd32"/>
<rect x="750" y="220" width="1" height="13" fill="#32cd32"/>
<rect x="748" y="223" width="5" height="10" fill="#32cd32"/>
<rect x="758" y="230" width="1" height="32" fill="#32cd32"/>
<rect x="756" y="234" width="5" height="24" fill="#32cd32"/>
<rect x="766" y="225" width="1" height="41" fill="#ff0000"/>
<rect x="764" y="246" width="5" height="12" fill="#ff0000"/>
<rect x="765" y="247" width="3" height="10" fill="#ff4500"/>
<rect x="774" y="244" width="1" height="69" fill="#32cd32"/>
<rect x="772" y="246" width="5" height="55" fill="#32cd32"/>
<rect x="782" y="294" width="1" height="70" fill="#32cd32"/>
<rect x="780" y="300" width="5" height="52" fill="#32cd32"/>
<rect x="790" y="339" width="1" height="91" fill="#32cd32"/>
<rect x="788" y="351" width="5" height="44" fill="#32cd32"/>
<rect x="798" y="386" width="1" height="12" fill="#ff0000"/>
<rect x="796" y="393" width="5" height="2" fill="#ff0000"/>
<rect x="806" y="369" width="1" height="59" fill="#ff0000"/>
<rect x="804" y="386" width="5" height="8" fill="#ff0000"/>
<rect x="805" y="387" width="3" height="6" fill="#ff4500"/>
<rect x="814" y="370" width="1" height="51" fill="#ff0000"/>
<rect x="812" y="380" width="5" height="6" fill="#ff0000"/>
<rect x="813" y="381" width="3" height="4" fill="#ff4500"/>
<rect x="822" y="352" width="1" height="43" fill="#32cd32"/>
<rect x="820" y="380" width="5" height="8" fill="#32cd32"/>
<rect x="830" y="341" width="1" height="65" fill="#ff0000"/>
<rect x="828" y="345" width="5" height="43" fill="#ff0000"/>
<rect x="829" y="346" width="3" height="41" fill="#ff4500"/>
<rect x="838" y="342" width="1" height="44" fill="#ff0000"/>
<rect x="836" y="344" width="5" height="2" fill="#ff0000"/>
<rect x="846" y="322" width="1" height="23" fill="#ff0000"/>
<rect x="844" y="326" width="5" height="18" fill="#ff0000"/>
<rect x="845" y="327" width="3" height="16" fill="#ff4500"/>
<rect x="854" y="318" width="1" height="28" fill="#32cd32"/>
<rect x="852" y="326" width="5" height="3" fill="#32cd32"/>
<rect x="862" y="302" width="1" height="32" fill="#ff0000"/>
<rect x="860" y="313" width="5" height="16" fill="#ff0000"/>
<rect x="861" y="314" width="3" height="14" fill="#ff4500"/>
<rect x="870" y="305" width="1" height="49" fill="#32cd32"/>
<rect x="868" y="313" width="5" height="25" fill="#32cd32"/>
<rect x="878" y="316" width="1" height="48" fill="#ff0000"/>
<rect x="876" y="335" width="5" height="3" fill="#ff0000"/>
<rect x="877" y="336" width="3" height="1" fill="#ff4500"/>
<rect x="886" y="327" width="1" height="80" fill="#32cd32"/>
<rect x="884" y="335" width="5" height="65" fill="#32cd32"/>
<rect x="894" y="398" width="1" height="9" fill="#32cd32"/>
<rect x="892" y="400" width="5" height="6" fill="#32cd32"/>
<rect x="902" y="392" width="1" height="42" fill="#ff0000"/>
<rect x="900" y="401" width="5" height="2" fill="#ff0000"/>
<rect x="910" y="386" width="1" height="25" fill="#ff0000"/>
<rect x="908" y="396" width="5" height="5" fill="#ff0000"/>
<rect x="909" y="397" width="3" height="3" fill="#ff4500"/>
<rect x="579" y="247" width="422" height="2" fill="#ff2626"/>
<rect x="713" y="301" width="301" height="2" fill="#90c800"/>
<rect x="788" y="431" width="229" height="2" fill="#2e8fe6"/>
<path d="M550 36h1v1h-1zM551 37h1v1h-1zM552 38h1v1h-1zM553 39h2v1h-2zM555 40h1v1h-1zM556 41h1v1h-1zM557 42h1v1h-1zM558 43h1v1h-1zM559 44h2v1h-2zM561 45h1v1h-1zM562 46h1v1h-1zM563 47h1v1h-1zM564 48h1v1h-1zM565 49h1v1h-1zM566 50h2v1h-2zM568 51h1v1h-1zM569 52h1v1h-1zM570 53h1v1h-1zM571 54h1v1h-1zM572 55h1v1h-1zM573 56h2v1h-2zM575 57h1v1h-1zM576 58h1v1h-1zM577 59h1v1h-1zM578 60h1v1h-1zM579 61h2v1h-2zM581 62h1v1h-1zM582 63h1v1h-1zM583 64h1v1h-1zM584 65h1v1h-1zM585 66h1v1h-1zM586 67h2v1h-2zM588 68h1v1h-1zM589 69h1v1h-1zM590 70h1v1h-1zM591 71h1v1h-1zM592 72h1v1h-1zM593 73h2v1h-2zM595 74h1v1h-1zM596 75h1v1h-1zM597 76h1v1h-1zM598 77h1v1h-1zM599 78h2v1h-2zM601 79h1v1h-1zM602 80h1v1h-1zM603 81h1v1h-1zM604 82h1v1h-1zM605 83h1v1h-1zM606 84h2v1h-2zM608 85h1v1h-1zM609 86h1v1h-1zM610 87h1v1h-1zM611 88h1v1h-1zM612 89h1v1h-1zM613 90h2v1h-2zM615 91h1v1h-1zM616 92h1v1h-1zM617 93h1v1h-1zM618 94h1v1h-1zM619 95h2v1h-2zM621 96h1v1h-1zM622 97h1v1h-1zM623 98h1v1h-1zM624 99h1v1h-1zM625 100h1v1h-1zM626 101h2v1h-2zM628 102h1v1h-1zM629 103h1v1h-1zM630 104h1v1h-1zM631 105h1v1h-1zM632 106h1v1h-1zM633 107h2v1h-2zM635 108h1v1h-1zM636 109h1v1h-1zM637 110h1v1h-1zM638 111h1v1h-1zM639 112h2v1h-2zM641 113h1v1h-1zM642 114h1v1h-1zM643 115h1v1h-1zM644 116h1v1h-1zM645 117h1v1h-1zM646 118h2v1h-2zM648 119h1v1h-1zM649 120h1v1h-1zM650 121h1v1h-1zM651 122h1v1h-1zM652 123h1v1h-1zM653 124h2v1h-2zM655 125h1v1h-1zM656 126h1v1h-1zM657 127h1v1h-1zM658 128h1v1h-1zM659 129h2v1h-2zM661 130h1v1h-1zM662 131h1v1h-1zM663 132h1v1h-1zM664 133h1v1h-1zM665 134h1v1h-1zM666 135h2v1h-2zM668 136h1v1h-1zM669 137h1v1h-1zM670 138h1v1h-1zM671 139h1v1h-1zM672 140h1v1h-1zM673 141h2v1h-2zM675 142h1v1h-1zM676 143h1v1h-1zM677 144h1v1h-1zM678 145h1v1h-1zM679 146h2v1h-2zM681 147h1v1h-1zM682 148h1v1h-1zM683 149h1v1h-1zM684 150h1v1h-1zM685 151h1v1h-1zM686 152h2v1h-2zM688 153h1v1h-1zM689 154h1v1h-1zM690 155h1v1h-1zM691 156h1v1h-1zM692 157h1v1h-1zM693 158h2v1h-2zM695 159h1v1h-1zM696 160h1v1h-1zM697 161h1v1h-1zM698 162h1v1h-1zM699 163h2v1h-2zM701 164h1v1h-1zM702 165h1v1h-1zM703 166h1v1h-1zM704 167h1v1h-1zM705 168h1v1h-1zM706 169h2v1h-2zM708 170h1v1h-1zM709 171h1v1h-1zM710 172h1v1h-1zM711 173h1v1h-1zM712 174h1v1h-1zM713 175h2v1h-2zM715 176h1v1h-1zM716 177h1v1h-1zM717 178h1v1h-1zM718 179h1v1h-1zM719 180h2v1h-2zM721 181h1v1h-1zM722 182h1v1h-1zM723 183h1v1h-1zM724 184h1v1h-1zM725 185h1v1h-1zM726 186h2v1h-2zM728 187h1v1h-1zM729 188h1v1h-1zM730 189h1v1h-1zM731 190h1v1h-1zM732 191h1v1h-1zM733 192h2v1h-2zM735 193h1v1h-1zM736 194h1v1h-1zM737 195h1v1h-1zM738 196h1v1h-1zM739 197h2v1h-2zM741 198h1v1h-1zM742 199h1v1h-1zM743 200h1v1h-1zM744 201h1v1h-1zM745 202h1v1h-1zM746 203h2v1h-2zM748 204h1v1h-1zM749 205h1v1h-1zM750 206h1v1h-1zM751 207h1v1h-1zM752 208h1v1h-1zM753 209h2v1h-2zM755 210h1v1h-1zM756 211h1v1h-1zM757 212h1v1h-1zM758 213h1v1h-1zM759 214h2v1h-2zM761 215h1v1h-1zM762 216h1v1h-1zM763 217h1v1h-1zM764 218h1v1h-1zM765 219h1v1h-1zM766 220h2v1h-2zM768 221h1v1h-1zM769 222h1v1h-1zM770 223h1v1h-1zM771 224h1v1h-1zM772 225h1v1h-1zM773 226h2v1h-2zM775 227h1v1h-1zM776 228h1v1h-1zM777 229h1v1h-1zM778 230h1v1h-1zM779 231h2v1h-2zM781 232h1v1h-1zM782 233h1v1h-1zM783 234h1v1h-1zM784 235h1v1h-1zM785 236h1v1h-1zM786 237h2v1h-2zM788 238h1v1h-1zM789 239h1v1h-1zM790 240h1v1h-1zM791 241h1v1h-1zM792 242h1v1h-1zM793 243h2v1h-2zM795 244h1v1h-1zM796 245h1v1h-1zM797 246h1v1h-1zM798 247h1v1h-1zM799 248h2v1h-2zM801 249h1v1h-1zM802 250h1v1h-1zM803 251h1v1h-1zM804 252h1v1h-1zM805 253h1v1h-1zM806 254h2v1h-2zM808 255h1v1h-1zM809 256h1v1h-1zM810 257h1v1h-1zM811 258h1v1h-1zM812 259h1v1h-1zM813 260h2v1h-2zM815 261h1v1h-1zM816 262h1v1h-1zM817 263h1v1h-1zM818 264h1v1h-1zM819 265h2v1h-2zM821 266h1v1h-1zM822 267h1v1h-1zM823 268h1v1h-1zM824 269h1v1h-1zM825 270h1v1h-1zM826 271h2v1h-2zM828 272h1v1h-1zM829 273h1v1h-1zM830 274h1v1h-1zM831 275h1v1h-1zM832 276h1v1h-1zM833 277h2v1h-2zM835 278h1v1h-1zM836 279h1v1h-1zM837 280h1v1h-1zM838 281h1v1h-1zM839 282h2v1h-2zM841 283h1v1h-1zM842 284h1v1h-1zM843 285h1v1h-1zM844 286h1v1h-1zM845 287h1v1h-1zM846 288h2v1h-2zM848 289h1v1h-1zM849 290h1v1h-1zM850 291h1v1h-1zM851 292h1v1h-1zM852 293h1v1h-1zM853 294h2v1h-2zM855 295h1v1h-1zM856 296h1v1h-1zM857 297h1v1h-1zM858 298h1v1h-1zM859 299h2v1h-2zM861 300h1v1h-1zM862 301h1v1h-1zM863 302h1v1h-1zM864 303h1v1h-1zM865 304h1v1h-1zM866 305h2v1h-2zM868 306h1v1h-1zM869 307h1v1h-1zM870 308h1v1h-1zM871 309h1v1h-1zM872 310h1v1h-1zM873 311h2v1h-2zM875 312h1v1h-1zM876 313h1v1h-1zM877 314h1v1h-1zM878 315h1v1h-1zM879 316h2v1h-2zM881 317h1v1h-1zM882 318h1v1h-1zM883 319h1v1h-1zM884 320h1v1h-1zM885 321h1v1h-1zM886 322h2v1h-2zM888 323h1v1h-1zM889 324h1v1h-1zM890 325h1v1h-1zM891 326h1v1h-1zM892 327h1v1h-1zM893 328h2v1h-2zM895 329h1v1h-1zM896 330h1v1h-1zM897 331h1v1h-1zM898 332h1v1h-1zM899 333h2v1h-2zM901 334h1v1h-1zM902 335h1v1h-1zM903 336h1v1h-1zM904 337h1v1h-1zM905 338h1v1h-1zM906 339h2v1h-2zM908 340h1v1h-1zM909 341h1v1h-1zM910 342h1v1h-1zM911 343h1v1h-1zM912 344h1v1h-1zM913 345h2v1h-2zM915 346h1v1h-1zM916 347h1v1h-1zM917 348h1v1h-1zM918 349h1v1h-1zM919 350h2v1h-2zM921 351h1v1h-1zM922 352h1v1h-1zM923 353h1v1h-1zM924 354h1v1h-1zM925 355h1v1h-1zM926 356h2v1h-2zM928 357h1v1h-1zM929 358h1v1h-1zM930 359h1v1h-1zM931 360h1v1h-1zM932 361h1v1h-1zM933 362h2v1h-2zM935 363h1v1h-1zM936 364h1v1h-1zM937 365h1v1h-1zM938 366h1v1h-1zM939 367h2v1h-2zM941 368h1v1h-1zM942 369h1v1h-1zM943 370h1v1h-1zM944 371h1v1h-1zM945 372h1v1h-1zM946 373h2v1h-2zM948 374h1v1h-1zM949 375h1v1h-1zM950 376h1v1h-1zM951 377h1v1h-1zM952 378h1v1h-1zM953 379h2v1h-2zM955 380h1v1h-1zM956 381h1v1h-1zM957 382h1v1h-1zM958 383h1v1h-1zM959 384h2v1h-2zM961 385h1v1h-1zM962 386h1v1h-1zM963 387h1v1h-1zM964 388h1v1h-1zM965 389h1v1h-1zM966 390h2v1h-2zM968 391h1v1h-1zM969 392h1v1h-1zM970 393h1v1h-1zM971 394h1v1h-1zM972 395h1v1h-1zM973 396h2v1h-2zM975 397h1v1h-1zM976 398h1v1h-1zM977 399h1v1h-1zM978 400h1v1h-1zM979 401h2v1h-2zM981 402h1v1h-1zM982 403h1v1h-1zM983 404h1v1h-1zM984 405h1v1h-1zM985 406h1v1h-1zM986 407h2v1h-2zM988 408h1v1h-1zM989 409h1v1h-1zM990 410h1v1h-1zM991 411h1v1h-1zM992 412h1v1h-1zM993 413h2v1h-2zM995 414h1v1h-1zM996 415h1v1h-1zM997 416h1v1h-1zM998 417h1v1h-1zM999 418h2v1h-2zM1001 419h1v1h-1zM1002 420h1v1h-1zM1003 421h1v1h-1zM1004 422h1v1h-1zM1005 423h1v1h-1zM1006 424h2v1h-2zM1008 425h1v1h-1zM1009 426h1v1h-1zM1010 427h1v1h-1zM1011 428h1v1h-1zM1012 429h1v1h-1zM1013 430h2v1h-2zM1015 431h1v1h-1zM1016 432h1v1h-1zM1017 433h1v1h-1zM1018 434h1v1h-1zM1019 435h2v1h-2zM1021 436h1v1h-1zM1022 437h1v1h-1zM1023 438h1v1h-1zM1024 439h1v1h-1zM1025 440h1v1h-1zM1026 441h2v1h-2zM1028 442h1v1h-1zM1029 443h1v1h-1zM1030 444h1v1h-1z" fill="#ff0000"/>
<rect x="548.5" y="34.5" width="4" height="4" fill="#ffffff" stroke="#ff0000" stroke-width="1"/>
<rect x="720.5" y="180.5" width="4" height="4" fill="#ffffff" stroke="#ff0000" stroke-width="1"/>
<rect x="892.5" y="327.5" width="4" height="4" fill="#ffffff" stroke="#ff0000" stroke-width="1"/>
</g>
<path d="M134 463h3v1h-3zM291 463h4v1h-4zM132 464h2v1h-2zM137 464h4v1h-4zM277 464h14v1h-14zM295 464h1v2h-1zM130 465h2v1h-2zM141 465h6v1h-6zM273 465h4v1h-4zM117 466h6v1h-6zM128 466h2v1h-2zM147 466h4v1h-4zM205 466h4v1h-4zM259 466h14v1h-14zM296 466h1v1h-1zM113 467h4v1h-4zM123 467h5v1h-5zM151 467h2v1h-2zM201 467h4v1h-4zM209 467h4v1h-4zM227 467h8v1h-8zM243 467h16v1h-16zM297 467h1v1h-1zM85 468h6v1h-6zM99 468h14v1h-14zM153 468h2v1h-2zM165 468h14v1h-14zM197 468h4v1h-4zM213 468h14v1h-14zM235 468h8v1h-8zM373 468h4v1h-4zM298 468h1v2h-1zM51 469h16v1h-16zM81 469h4v1h-4zM91 469h8v1h-8zM155 469h1v1h-1zM163 469h2v1h-2zM179 469h6v1h-6zM195 469h2v1h-2zM369 469h4v1h-4zM377 469h4v1h-4zM485 469h3v1h-3zM43 470h8v1h-8zM67 470h14v1h-14zM156 470h2v1h-2zM160 470h3v1h-3zM185 470h4v1h-4zM192 470h3v1h-3zM299 470h1v1h-1zM363 470h6v1h-6zM381 470h6v1h-6zM481 470h4v1h-4zM488 470h2v1h-2zM501 470h6v1h-6zM37 471h6v1h-6zM158 471h2v1h-2zM189 471h3v1h-3zM300 471h1v1h-1zM357 471h6v1h-6zM387 471h5v1h-5zM453 471h12v1h-12zM477 471h4v1h-4zM490 471h2v1h-2zM499 471h2v1h-2zM507 471h4v1h-4zM33 472h4v1h-4zM353 472h4v1h-4zM392 472h3v1h-3zM451 472h2v1h-2zM465 472h4v1h-4zM473 472h4v1h-4zM492 472h2v1h-2zM496 472h3v1h-3zM511 472h1v1h-1zM645 472h12v1h-12zM301 472h1v2h-1zM6 473h27v1h-27zM347 473h6v1h-6zM395 473h2v1h-2zM421 473h14v1h-14zM448 473h3v1h-3zM469 473h4v1h-4zM494 473h2v1h-2zM566 473h3v1h-3zM643 473h2v1h-2zM657 473h4v1h-4zM512 473h1v2h-1zM302 474h2v1h-2zM326 474h5v1h-5zM339 474h8v1h-8zM397 474h6v1h-6zM419 474h2v1h-2zM435 474h13v1h-13zM564 474h2v1h-2zM569 474h4v1h-4zM597 474h14v1h-14zM640 474h3v1h-3zM661 474h4v1h-4zM304 475h2v1h-2zM324 475h2v1h-2zM331 475h8v1h-8zM403 475h8v1h-8zM416 475h3v1h-3zM513 475h1v1h-1zM563 475h1v1h-1zM573 475h3v1h-3zM595 475h2v1h-2zM611 475h16v1h-16zM635 475h5v1h-5zM665 475h4v1h-4zM306 476h2v1h-2zM323 476h1v1h-1zM411 476h5v1h-5zM514 476h1v1h-1zM561 476h2v1h-2zM576 476h3v1h-3zM592 476h3v1h-3zM627 476h8v1h-8zM669 476h6v1h-6zM733 476h4v1h-4zM308 477h2v1h-2zM321 477h2v1h-2zM515 477h1v1h-1zM559 477h2v1h-2zM579 477h2v1h-2zM587 477h5v1h-5zM675 477h24v1h-24zM729 477h4v1h-4zM737 477h4v1h-4zM861 477h4v1h-4zM310 478h5v1h-5zM319 478h2v1h-2zM542 478h17v1h-17zM581 478h6v1h-6zM699 478h8v1h-8zM725 478h4v1h-4zM741 478h6v1h-6zM846 478h5v1h-5zM857 478h4v1h-4zM865 478h4v1h-4zM516 478h1v2h-1zM315 479h4v1h-4zM540 479h2v1h-2zM707 479h8v1h-8zM721 479h4v1h-4zM747 479h5v1h-5zM844 479h2v1h-2zM851 479h6v1h-6zM869 479h10v1h-10zM517 480h1v1h-1zM538 480h2v1h-2zM715 480h6v1h-6zM752 480h3v1h-3zM765 480h3v1h-3zM842 480h2v1h-2zM879 480h2v1h-2zM518 481h2v1h-2zM536 481h2v1h-2zM755 481h2v1h-2zM761 481h4v1h-4zM768 481h2v1h-2zM840 481h2v1h-2zM881 481h2v1h-2zM520 482h3v1h-3zM533 482h3v1h-3zM757 482h4v1h-4zM770 482h2v1h-2zM830 482h10v1h-10zM883 482h1v1h-1zM523 483h2v1h-2zM529 483h4v1h-4zM772 483h2v1h-2zM828 483h2v1h-2zM884 483h2v1h-2zM899 483h12v1h-12zM525 484h4v1h-4zM774 484h2v1h-2zM827 484h1v1h-1zM886 484h13v1h-13zM776 485h3v1h-3zM825 485h2v1h-2zM779 486h2v1h-2zM823 486h2v1h-2zM781 487h4v1h-4zM811 487h12v1h-12zM785 488h4v1h-4zM803 488h8v1h-8zM789 489h14v1h-14z" fill="#1e90ff"/>
<rect x="5" y="526" width="3" height="19" fill="#c0c0c0"/>
<rect x="13" y="529" width="3" height="16" fill="#c0c0c0"/>
<rect x="21" y="531" width="3" height="14" fill="#c0c0c0"/>
<rect x="29" y="533" width="3" height="12" fill="#c0c0c0"/>
<rect x="37" y="533" width="3" height="12" fill="#c0c0c0"/>
<rect x="45" y="532" width="3" height="13" fill="#c0c0c0"/>
<rect x="53" y="530" width="3" height="15" fill="#c0c0c0"/>
<rect x="61" y="528" width="3" height="17" fill="#c0c0c0"/>
<rect x="69" y="528" width="3" height="17" fill="#c0c0c0"/>
<rect x="77" y="528" width="3" height="17" fill="#c0c0c0"/>
<rect x="85" y="527" width="3" height="18" fill="#c0c0c0"/>
<rect x="93" y="526" width="3" height="19" fill="#c0c0c0"/>
<rect x="101" y="525" width="3" height="20" fill="#c0c0c0"/>
<rect x="109" y="523" width="3" height="22" fill="#c0c0c0"/>
<rect x="117" y="521" width="3" height="24" fill="#c0c0c0"/>
<rect x="125" y="521" width="3" height="24" fill="#c0c0c0"/>
<rect x="133" y="516" width="3" height="29" fill="#c0c0c0"/>
<rect x="141" y="516" width="3" height="29" fill="#c0c0c0"/>
<rect x="149" y="516" width="3" height="29" fill="#c0c0c0"/>
<rect x="157" y="515" width="3" height="30" fill="#c0c0c0"/>
<rect x="165" y="518" width="3" height="27" fill="#c0c0c0"/>
<rect x="173" y="515" width="3" height="30" fill="#c0c0c0"/>
<rect x="181" y="515" width="3" height="30" fill="#c0c0c0"/>
<rect x="189" y="517" width="3" height="28" fill="#c0c0c0"/>
<rect x="197" y="517" width="3" height="28" fill="#c0c0c0"/>
<rect x="205" y="515" width="3" height="30" fill="#c0c0c0"/>
<rect x="213" y="515" width="3" height="30" fill="#c0c0c0"/>
<rect x="221" y="515" width="3" height="30" fill="#c0c0c0"/>
<rect x="229" y="512" width="3" height="33" fill="#c0c0c0"/>
<rect x="237" y="512" width="3" height="33" fill="#c0c0c0"/>
<rect x="245" y="511" width="3" height="34" fill="#c0c0c0"/>
<rect x="253" y="511" width="3" height="34" fill="#c0c0c0"/>
<rect x="261" y="511" width="3" height="34" fill="#c0c0c0"/>
<rect x="269" y="511" width="3" height="34" fill="#c0c0c0"/>
<rect x="277" y="511" width="3" height="34" fill="#c0c0c0"/>
<rect x="285" y="510" width="3" height="35" fill="#c0c0c0"/>
<rect x="293" y="509" width="3" height="36" fill="#c0c0c0"/>
<rect x="301" y="515" width="3" height="30" fill="#c0c0c0"/>
<rect x="309" y="525" width="3" height="20" fill="#c0c0c0"/>
<rect x="317" y="533" width="3" height="12" fill="#c0c0c0"/>
<rect x="325" y="535" width="3" height="10" fill="#c0c0c0"/>
<rect x="333" y="538" width="3" height="7" fill="#c0c0c0"/>
<rect x="341" y="540" width="3" height="5" fill="#c0c0c0"/>
<rect x="349" y="540" width="3" height="5" fill="#c0c0c0"/>
<rect x="357" y="537" width="3" height="8" fill="#c0c0c0"/>
<rect x="365" y="536" width="3" height="9" fill="#c0c0c0"/>
<rect x="373" y="532" width="3" height="13" fill="#c0c0c0"/>
<rect x="381" y="532" width="3" height="13" fill="#c0c0c0"/>
<rect x="389" y="532" width="3" height="13" fill="#c0c0c0"/>
<rect x="397" y="534" width="3" height="11" fill="#c0c0c0"/>
<rect x="405" y="537" width="3" height="8" fill="#c0c0c0"/>
<rect x="413" y="540" width="3" height="5" fill="#c0c0c0"/>
<rect x="421" y="541" width="3" height="4" fill="#c0c0c0"/>
<rect x="429" y="540" width="3" height="5" fill="#c0c0c0"/>
<rect x="437" y="542" width="3" height="3" fill="#c0c0c0"/>
<rect x="445" y="543" width="3" height="2" fill="#c0c0c0"/>
<rect x="453" y="541" width="3" height="4" fill="#c0c0c0"/>
<rect x="461" y="540" width="3" height="5" fill="#c0c0c0"/>
<rect x="469" y="540" width="3" height="5" fill="#c0c0c0"/>
<rect x="477" y="538" width="3" height="7" fill="#c0c0c0"/>
<rect x="485" y="537" width="3" height="8" fill="#c0c0c0"/>
<rect x="493" y="538" width="3" height="7" fill="#c0c0c0"/>
<rect x="501" y="536" width="3" height="9" fill="#c0c0c0"/>
<rect x="509" y="536" width="3" height="9" fill="#c0c0c0"/>
<rect x="517" y="545" width="3" height="1" fill="#c0c0c0"/>
<rect x="525" y="545" width="3" height="13" fill="#c0c0c0"/>
<rect x="533" y="545" width="3" height="20" fill="#c0c0c0"/>
<rect x="541" y="545" width="3" height="22" fill="#c0c0c0"/>
<rect x="549" y="545" width="3" height="24" fill="#c0c0c0"/>
<rect x="557" y="545" width="3" height="25" fill="#c0c0c0"/>
<rect x="565" y="545" width="3" height="21" fill="#c0c0c0"/>
<rect x="573" y="545" width="3" height="19" fill="#c0c0c0"/>
<rect x="581" y="545" width="3" height="22" fill="#c0c0c0"/>
<rect x="589" y="545" width="3" height="21" fill="#c0c0c0"/>
<rect x="597" y="545" width="3" height="20" fill="#c0c0c0"/>
<rect x="605" y="545" width="3" height="18" fill="#c0c0c0"/>
<rect x="613" y="545" width="3" height="16" fill="#c0c0c0"/>
<rect x="621" y="545" width="3" height="15" fill="#c0c0c0"/>
<rect x="629" y="545" width="3" height="15" fill="#c0c0c0"/>
<rect x="637" y="545" width="3" height="13" fill="#c0c0c0"/>
<rect x="645" y="545" width="3" height="11" fill="#c0c0c0"/>
<rect x="653" y="545" width="3" height="8" fill="#c0c0c0"/>
<rect x="661" y="545" width="3" height="7" fill="#c0c0c0"/>
<rect x="669" y="545" width="3" height="7" fill="#c0c0c0"/>
<rect x="677" y="545" width="3" height="9" fill="#c0c0c0"/>
<rect x="685" y="545" width="3" height="10" fill="#c0c0c0"/>
<rect x="693" y="545" width="3" height="12" fill="#c0c0c0"/>
<rect x="701" y="545" width="3" height="13" fill="#c0c0c0"/>
<rect x="709" y="545" width="3" height="15" fill="#c0c0c0"/>
<rect x="717" y="545" width="3" height="17" fill="#c0c0c0"/>
<rect x="725" y="545" width="3" height="17" fill="#c0c0c0"/>
<rect x="733" y="545" width="3" height="16" fill="#c0c0c0"/>
<rect x="741" y="545" width="3" height="17" fill="#c0c0c0"/>
<rect x="749" y="545" width="3" height="18" fill="#c0c0c0"/>
<rect x="757" y="545" width="3" height="21" fill="#c0c0c0"/>
<rect x="765" y="545" width="3" height="22" fill="#c0c0c0"/>
<rect x="773" y="545" width="3" height="28" fill="#c0c0c0"/>
<rect x="781" y="545" width="3" height="36" fill="#c0c0c0"/>
<rect x="789" y="545" width="3" height="46" fill="#c0c0c0"/>
<rect x="797" y="545" width="3" height="53" fill="#c0c0c0"/>
<rect x="805" y="545" width="3" height="58" fill="#c0c0c0"/>
<rect x="813" y="545" width="3" height="60" fill="#c0c0c0"/>
<rect x="821" y="545" width="3" height="62" fill="#c0c0c0"/>
<rect x="829" y="545" width="3" height="59" fill="#c0c0c0"/>
<rect x="837" y="545" width="3" height="55" fill="#c0c0c0"/>
<rect x="845" y="545" width="3" height="51" fill="#c0c0c0"/>
<rect x="853" y="545" width="3" height="47" fill="#c0c0c0"/>
<rect x="861" y="545" width="3" height="42" fill="#c0c0c0"/>
<rect x="869" y="545" width="3" height="40" fill="#c0c0c0"/>
<rect x="877" y="545" width="3" height="37" fill="#c0c0c0"/>
<rect x="885" y="545" width="3" height="41" fill="#c0c0c0"/>
<rect x="893" y="545" width="3" height="43" fill="#c0c0c0"/>
<rect x="901" y="545" width="3" height="43" fill="#c0c0c0"/>
<rect x="909" y="545" width="3" height="44" fill="#c0c0c0"/>
<path d="M291 511h14v1h-14zM267 512h24v1h-24zM305 512h4v1h-4zM243 513h24v1h-24zM309 513h4v1h-4zM235 514h8v1h-8zM313 514h4v1h-4zM203 515h32v1h-32zM317 515h3v1h-3zM195 516h8v1h-8zM320 516h3v1h-3zM171 517h24v1h-24zM323 517h2v1h-2zM165 518h6v1h-6zM325 518h3v1h-3zM161 519h4v1h-4zM328 519h3v1h-3zM155 520h6v1h-6zM331 520h2v1h-2zM147 521h8v1h-8zM333 521h3v1h-3zM6 522h3v1h-3zM141 522h6v1h-6zM336 522h3v1h-3zM9 523h4v1h-4zM137 523h4v1h-4zM339 523h2v1h-2zM13 524h4v1h-4zM133 524h4v1h-4zM341 524h3v1h-3zM17 525h4v1h-4zM129 525h4v1h-4zM344 525h3v1h-3zM21 526h6v1h-6zM117 526h12v1h-12zM347 526h2v1h-2zM27 527h8v1h-8zM113 527h4v1h-4zM349 527h3v1h-3zM35 528h8v1h-8zM107 528h6v1h-6zM352 528h3v1h-3zM43 529h8v1h-8zM99 529h8v1h-8zM355 529h2v1h-2zM51 530h48v1h-48zM357 530h3v1h-3zM360 531h3v1h-3zM363 532h2v1h-2zM365 533h4v1h-4zM369 534h4v1h-4zM373 535h6v1h-6zM379 536h54v1h-54zM433 537h4v1h-4zM437 538h14v1h-14zM451 539h8v1h-8zM499 539h22v1h-22zM459 540h16v1h-16zM483 540h16v1h-16zM521 540h4v1h-4zM475 541h8v1h-8zM525 541h3v1h-3zM528 542h3v1h-3zM531 543h2v1h-2zM533 544h4v1h-4zM537 545h4v1h-4zM541 546h2v1h-2zM543 547h2v1h-2zM545 548h2v1h-2zM547 549h1v1h-1zM548 550h2v1h-2zM550 551h2v1h-2zM552 552h3v1h-3zM555 553h2v1h-2zM557 554h4v1h-4zM691 554h24v1h-24zM561 555h4v1h-4zM675 555h16v1h-16zM715 555h8v1h-8zM565 556h3v1h-3zM669 556h6v1h-6zM723 556h8v1h-8zM568 557h3v1h-3zM665 557h4v1h-4zM731 557h6v1h-6zM571 558h2v1h-2zM659 558h6v1h-6zM737 558h4v1h-4zM573 559h3v1h-3zM653 559h6v1h-6zM741 559h14v1h-14zM576 560h2v1h-2zM649 560h4v1h-4zM755 560h8v1h-8zM578 561h2v1h-2zM643 561h6v1h-6zM763 561h6v1h-6zM580 562h2v1h-2zM635 562h8v1h-8zM769 562h4v1h-4zM582 563h2v1h-2zM627 563h8v1h-8zM773 563h4v1h-4zM584 564h3v1h-3zM619 564h8v1h-8zM777 564h4v1h-4zM587 565h2v1h-2zM611 565h8v1h-8zM781 565h3v1h-3zM589 566h22v1h-22zM784 566h2v1h-2zM786 567h2v1h-2zM788 568h2v1h-2zM790 569h2v1h-2zM792 570h2v1h-2zM794 571h2v1h-2zM796 572h2v1h-2zM798 573h2v1h-2zM800 574h2v1h-2zM802 575h2v1h-2zM804 576h2v1h-2zM806 577h1v1h-1zM807 578h2v1h-2zM809 579h2v1h-2zM811 580h1v1h-1zM812 581h2v1h-2zM814 582h1v1h-1zM815 583h2v1h-2zM817 584h2v1h-2zM819 585h1v1h-1zM820 586h2v1h-2zM822 587h2v1h-2zM907 587h4v1h-4zM824 588h2v1h-2zM901 588h6v1h-6zM826 589h2v1h-2zM897 589h4v1h-4zM828 590h2v1h-2zM893 590h4v1h-4zM830 591h2v1h-2zM889 591h4v1h-4zM832 592h2v1h-2zM885 592h4v1h-4zM834 593h2v1h-2zM883 593h2v1h-2zM836 594h2v1h-2zM880 594h3v1h-3zM838 595h3v1h-3zM877 595h3v1h-3zM841 596h4v1h-4zM873 596h4v1h-4zM845 597h6v1h-6zM867 597h6v1h-6zM851 598h16v1h-16z" fill="#ff0000"/>
</g>
<text x="5.5" y="18" font-size="10.6" fill="#3c3c3c" textLength="17.5" lengthAdjust="spacingAndGlyphs">M30</text>
<text x="37" y="18" font-size="10.6" fill="#3c3c3c" textLength="11.3" lengthAdjust="spacingAndGlyphs">H1</text>
<text x="64" y="18" font-size="10.6" fill="#3c3c3c" textLength="11.8" lengthAdjust="spacingAndGlyphs">H4</text>
<text x="93" y="18" font-size="10.6" fill="#3c3c3c" textLength="11" lengthAdjust="spacingAndGlyphs">D1</text>
<text x="120" y="18" font-size="10.6" fill="#3c3c3c" textLength="14" lengthAdjust="spacingAndGlyphs">W1</text>
<text x="147" y="18" font-size="10.6" fill="#3c3c3c" textLength="14.4" lengthAdjust="spacingAndGlyphs">MN</text>
<path d="M8.7 37.4h7.4l-3.7 3.8z" fill="#000"/>
<text x="21" y="42" font-size="9.7" fill="#000" textLength="66" lengthAdjust="spacingAndGlyphs" stroke="#000" stroke-width="0.12">USDCNH,Daily</text>
<text x="93" y="42" font-size="9.7" fill="#000" textLength="141" lengthAdjust="spacingAndGlyphs" stroke="#000" stroke-width="0.12">6.75533 6.76456 6.74869 6.75761</text>
<g shape-rendering="crispEdges">
<rect x="1157" y="44" width="2" height="1" fill="#000"/>
<rect x="1157" y="77" width="2" height="1" fill="#000"/>
<rect x="1157" y="110" width="2" height="1" fill="#000"/>
<rect x="1157" y="143" width="2" height="1" fill="#000"/>
<rect x="1157" y="176" width="2" height="1" fill="#000"/>
<rect x="1157" y="209" width="2" height="1" fill="#000"/>
<rect x="1157" y="242" width="2" height="1" fill="#000"/>
<rect x="1157" y="275" width="2" height="1" fill="#000"/>
<rect x="1157" y="308" width="2" height="1" fill="#000"/>
<rect x="1157" y="341" width="2" height="1" fill="#000"/>
<rect x="1157" y="374" width="2" height="1" fill="#000"/>
<rect x="1157" y="407" width="2" height="1" fill="#000"/>
<rect x="1157" y="440" width="2" height="1" fill="#000"/>
<rect x="1157" y="395" width="3" height="1" fill="#000"/>
</g>
<text x="1162" y="48" font-size="9.7" fill="#000" textLength="33" lengthAdjust="spacingAndGlyphs" stroke="#000" stroke-width="0.12">6.98370</text>
<text x="1162" y="81" font-size="9.7" fill="#000" textLength="33" lengthAdjust="spacingAndGlyphs" stroke="#000" stroke-width="0.12">6.96270</text>
<text x="1162" y="114" font-size="9.7" fill="#000" textLength="33" lengthAdjust="spacingAndGlyphs" stroke="#000" stroke-width="0.12">6.94110</text>
<text x="1162" y="147" font-size="9.7" fill="#000" textLength="33" lengthAdjust="spacingAndGlyphs" stroke="#000" stroke-width="0.12">6.92010</text>
<text x="1162" y="180" font-size="9.7" fill="#000" textLength="33" lengthAdjust="spacingAndGlyphs" stroke="#000" stroke-width="0.12">6.89910</text>
<text x="1162" y="213" font-size="9.7" fill="#000" textLength="33" lengthAdjust="spacingAndGlyphs" stroke="#000" stroke-width="0.12">6.87750</text>
<text x="1162" y="246" font-size="9.7" fill="#000" textLength="33" lengthAdjust="spacingAndGlyphs" stroke="#000" stroke-width="0.12">6.85650</text>
<text x="1162" y="279" font-size="9.7" fill="#000" textLength="33" lengthAdjust="spacingAndGlyphs" stroke="#000" stroke-width="0.12">6.83550</text>
<text x="1162" y="312" font-size="9.7" fill="#000" textLength="33" lengthAdjust="spacingAndGlyphs" stroke="#000" stroke-width="0.12">6.81450</text>
<text x="1162" y="345" font-size="9.7" fill="#000" textLength="33" lengthAdjust="spacingAndGlyphs" stroke="#000" stroke-width="0.12">6.79290</text>
<text x="1162" y="378" font-size="9.7" fill="#000" textLength="33" lengthAdjust="spacingAndGlyphs" stroke="#000" stroke-width="0.12">6.77190</text>
<text x="1162" y="411" font-size="9.7" fill="#000" textLength="33" lengthAdjust="spacingAndGlyphs" stroke="#000" stroke-width="0.12">6.75090</text>
<text x="1162" y="444" font-size="9.7" fill="#000" textLength="33" lengthAdjust="spacingAndGlyphs" stroke="#000" stroke-width="0.12">6.72990</text>
<rect x="1158" y="391" width="41" height="11" fill="#000" shape-rendering="crispEdges"/>
<text x="1162" y="400" font-size="9.7" fill="#fff" textLength="33" lengthAdjust="spacingAndGlyphs" stroke="#fff" stroke-width="0.12">6.75761</text>
<text x="1161" y="456" font-size="9.7" fill="#000" textLength="14.3" lengthAdjust="spacingAndGlyphs" stroke="#000" stroke-width="0.12">100</text>
<text x="1161" y="467" font-size="9.7" fill="#000" textLength="9.5" lengthAdjust="spacingAndGlyphs" stroke="#000" stroke-width="0.12">70</text>
<text x="1161" y="488" font-size="9.7" fill="#000" textLength="9.5" lengthAdjust="spacingAndGlyphs" stroke="#000" stroke-width="0.12">30</text>
<text x="1161" y="498" font-size="9.7" fill="#000" textLength="4.8" lengthAdjust="spacingAndGlyphs" stroke="#000" stroke-width="0.12">0</text>
<text x="10" y="458" font-size="9.7" fill="#000" textLength="68" lengthAdjust="spacingAndGlyphs" stroke="#000" stroke-width="0.12">RSI(14) 32.9819</text>
<g shape-rendering="crispEdges" stroke="#c0c0c0" stroke-dasharray="3 3">
<line x1="6" x2="1156" y1="463.5" y2="463.5"/><line x1="6" x2="1156" y1="484.5" y2="484.5"/>
</g>
<text x="1160" y="514.3" font-size="9.7" fill="#000" textLength="38" lengthAdjust="spacingAndGlyphs" stroke="#000" stroke-width="0.12">0.023534</text>
<text x="1161" y="549" font-size="9.7" fill="#000" textLength="19" lengthAdjust="spacingAndGlyphs" stroke="#000" stroke-width="0.12">0.00</text>
<text x="1160" y="608" font-size="9.7" fill="#000" textLength="41" lengthAdjust="spacingAndGlyphs" stroke="#000" stroke-width="0.12">-0.038466</text>
<g shape-rendering="crispEdges">
<rect x="1157" y="545" width="2" height="1" fill="#000"/>
</g>
<text x="10" y="516" font-size="9.7" fill="#000" textLength="154" lengthAdjust="spacingAndGlyphs" stroke="#000" stroke-width="0.12">MACD(12,26,9) -0.025553 -0.024830</text>
<g shape-rendering="crispEdges">
<rect x="6" y="612" width="1" height="3" fill="#000"/>
<rect x="70" y="612" width="1" height="3" fill="#000"/>
<rect x="134" y="612" width="1" height="3" fill="#000"/>
<rect x="198" y="612" width="1" height="3" fill="#000"/>
<rect x="262" y="612" width="1" height="3" fill="#000"/>
<rect x="326" y="612" width="1" height="3" fill="#000"/>
<rect x="390" y="612" width="1" height="3" fill="#000"/>
<rect x="454" y="612" width="1" height="3" fill="#000"/>
<rect x="518" y="612" width="1" height="3" fill="#000"/>
<rect x="582" y="612" width="1" height="3" fill="#000"/>
<rect x="646" y="612" width="1" height="3" fill="#000"/>
<rect x="710" y="612" width="1" height="3" fill="#000"/>
<rect x="774" y="612" width="1" height="3" fill="#000"/>
<rect x="838" y="612" width="1" height="3" fill="#000"/>
<rect x="902" y="612" width="1" height="3" fill="#000"/>
</g>
<text x="5.5" y="624" font-size="9.7" fill="#000" textLength="51.5" lengthAdjust="spacingAndGlyphs" stroke="#000" stroke-width="0.12">19 Sep 2018</text>
<text x="69.5" y="624" font-size="9.7" fill="#000" textLength="51.2" lengthAdjust="spacingAndGlyphs" stroke="#000" stroke-width="0.12">28 Sep 2018</text>
<text x="133.5" y="624" font-size="9.7" fill="#000" textLength="45.4" lengthAdjust="spacingAndGlyphs" stroke="#000" stroke-width="0.12">8 Oct 2018</text>
<text x="197.5" y="624" font-size="9.7" fill="#000" textLength="50.1" lengthAdjust="spacingAndGlyphs" stroke="#000" stroke-width="0.12">17 Oct 2018</text>
<text x="261.5" y="624" font-size="9.7" fill="#000" textLength="50.4" lengthAdjust="spacingAndGlyphs" stroke="#000" stroke-width="0.12">26 Oct 2018</text>
<text x="325.5" y="624" font-size="9.7" fill="#000" textLength="48" lengthAdjust="spacingAndGlyphs" stroke="#000" stroke-width="0.12">5 Nov 2018</text>
<text x="389.5" y="624" font-size="9.7" fill="#000" textLength="53.3" lengthAdjust="spacingAndGlyphs" stroke="#000" stroke-width="0.12">14 Nov 2018</text>
<text x="453.5" y="624" font-size="9.7" fill="#000" textLength="53.3" lengthAdjust="spacingAndGlyphs" stroke="#000" stroke-width="0.12">23 Nov 2018</text>
<text x="517.5" y="624" font-size="9.7" fill="#000" textLength="46" lengthAdjust="spacingAndGlyphs" stroke="#000" stroke-width="0.12">3 Dec 2018</text>
<text x="581.5" y="624" font-size="9.7" fill="#000" textLength="50.7" lengthAdjust="spacingAndGlyphs" stroke="#000" stroke-width="0.12">12 Dec 2018</text>
<text x="645.5" y="624" font-size="9.7" fill="#000" textLength="51" lengthAdjust="spacingAndGlyphs" stroke="#000" stroke-width="0.12">21 Dec 2018</text>
<text x="709.5" y="624" font-size="9.7" fill="#000" textLength="51.7" lengthAdjust="spacingAndGlyphs" stroke="#000" stroke-width="0.12">31 Dec 2018</text>
<text x="773.5" y="624" font-size="9.7" fill="#000" textLength="44.6" lengthAdjust="spacingAndGlyphs" stroke="#000" stroke-width="0.12">9 Jan 2019</text>
<text x="837.5" y="624" font-size="9.7" fill="#000" textLength="49" lengthAdjust="spacingAndGlyphs" stroke="#000" stroke-width="0.12">18 Jan 2019</text>
<text x="901.5" y="624" font-size="9.7" fill="#000" textLength="49.3" lengthAdjust="spacingAndGlyphs" stroke="#000" stroke-width="0.12">28 Jan 2019</text>
<g shape-rendering="crispEdges">
<rect x="3" y="633" width="1196" height="1" fill="#e3e3e3"/>
<rect x="0" y="635" width="1199" height="19" fill="#f0f0f0"/>
<rect x="2" y="634" width="1197" height="1" fill="#000"/>
<rect x="419" y="634" width="104" height="19" fill="#fff"/>
<rect x="419" y="634" width="1" height="19" fill="#000"/>
<rect x="522" y="634" width="1" height="19" fill="#000"/>
<rect x="419" y="652" width="104" height="1" fill="#000"/>
<rect x="0" y="654" width="1199" height="1" fill="#f8f8f8"/>
<rect x="0" y="655" width="1199" height="1" fill="#fcfcfc"/>
<rect x="0" y="656" width="1199" height="1" fill="#f6f6f6"/>
<rect x="0" y="657" width="1199" height="1" fill="#d8d8d8"/>
<rect x="0" y="658" width="1199" height="1" fill="#a0a0a0"/>
<rect x="0" y="659" width="1199" height="1" fill="#d4d4d4"/>
<rect x="2" y="635" width="1" height="18" fill="#6e6e6e"/>
<rect x="1" y="635" width="1" height="18" fill="#c8c8c8"/>
<rect x="0" y="653" width="3" height="1" fill="#8a8a8a"/>
<rect x="111" y="637" width="1" height="14" fill="#696969"/>
<rect x="215" y="637" width="1" height="14" fill="#696969"/>
<rect x="315" y="637" width="1" height="14" fill="#696969"/>
<rect x="619" y="637" width="1" height="14" fill="#696969"/>
<rect x="711" y="637" width="1" height="14" fill="#696969"/>
<rect x="815" y="637" width="1" height="14" fill="#696969"/>
<rect x="903" y="637" width="1" height="14" fill="#696969"/>
<rect x="1007" y="637" width="1" height="14" fill="#696969"/>
<rect x="1075" y="637" width="1" height="14" fill="#696969"/>
</g>
<text x="19.3" y="649" font-size="12.5" fill="#646464" textLength="79.7" lengthAdjust="spacingAndGlyphs">EURUSD,Daily</text>
<text x="122" y="649" font-size="12.5" fill="#646464" textLength="81.7" lengthAdjust="spacingAndGlyphs">AUDUSD,Daily</text>
<text x="225.3" y="649" font-size="12.5" fill="#646464" textLength="78.4" lengthAdjust="spacingAndGlyphs">USDCHF,Daily</text>
<text x="326" y="649" font-size="12.5" fill="#646464" textLength="80.7" lengthAdjust="spacingAndGlyphs">USDCAD,Daily</text>
<text x="533.3" y="649" font-size="12.5" fill="#646464" textLength="74.4" lengthAdjust="spacingAndGlyphs">USDJPY,Daily</text>
<text x="630" y="649" font-size="12.5" fill="#646464" textLength="68.3" lengthAdjust="spacingAndGlyphs">XAUUSD,H1</text>
<text x="722.7" y="649" font-size="12.5" fill="#646464" textLength="81.3" lengthAdjust="spacingAndGlyphs">GBPUSD,Daily</text>
<text x="827.3" y="649" font-size="12.5" fill="#646464" textLength="62.7" lengthAdjust="spacingAndGlyphs">SP500,M15</text>
<text x="914.7" y="649" font-size="12.5" fill="#646464" textLength="80.0" lengthAdjust="spacingAndGlyphs">GBPUSD,Daily</text>
<text x="1017.3" y="649" font-size="12.5" fill="#646464" textLength="46.0" lengthAdjust="spacingAndGlyphs">DJ30,H4</text>
<text x="1085" y="649" font-size="12.5" fill="#646464" textLength="70" lengthAdjust="spacingAndGlyphs">TECH100,H1</text>
<text x="429.5" y="649" font-size="12.5" fill="#000" textLength="82" lengthAdjust="spacingAndGlyphs">USDCNH,Daily</text>
<path d="M1175 640v6.4l-3.4-3.2z" fill="#a0a0a0"/><path d="M1191 640v6.4l3.6-3.2z" fill="#000"/>
</svg></body></html>
